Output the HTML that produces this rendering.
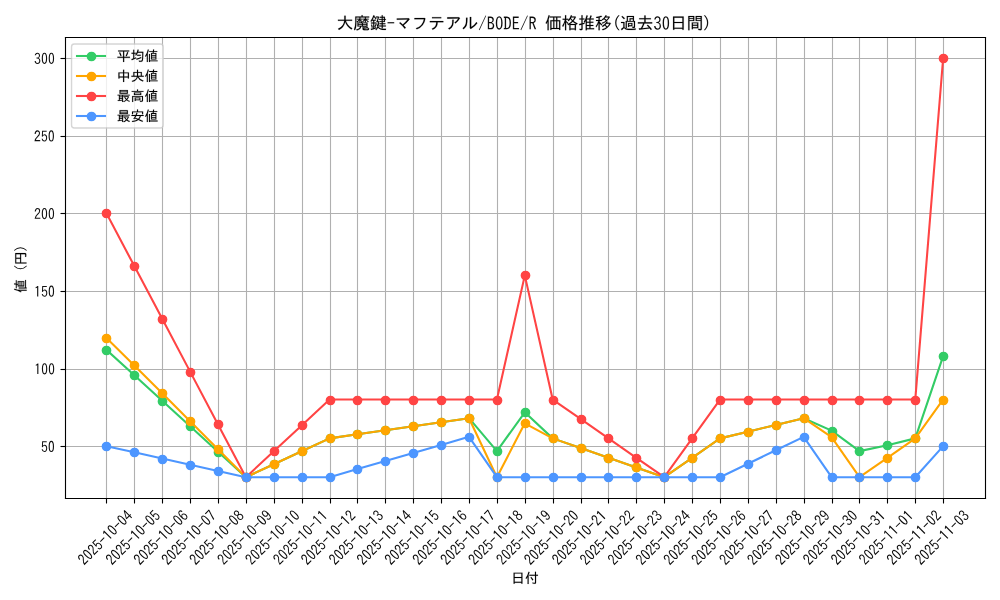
<!DOCTYPE html>
<html><head><meta charset="utf-8"><title>chart</title>
<style>html,body{margin:0;padding:0;background:#fff;width:1000px;height:600px;overflow:hidden;font-family:"Liberation Sans",sans-serif}svg{display:block}</style>
</head><body>
<svg width="1000" height="600" viewBox="0 0 1000 600">
<defs>
<style type="text/css">*{stroke-linejoin: round; stroke-linecap: butt}</style>
</defs>
<g id="figure_1">
<g id="patch_1">
<path d="M 0 600
L 1000 600
L 1000 0
L 0 0
z
" style="fill: #ffffff"/>
</g>
<g id="axes_1">
<g id="patch_2">
<path d="M 64.6 498.15
L 985 498.15
L 985 37.068
L 64.6 37.068
z
" style="fill: #ffffff"/>
</g>
<g id="matplotlib.axis_1">
<g id="xtick_1">
<g id="line2d_1">
<path d="M 106.5 498.5 L 106.5 37.5" clip-path="url(#p190b335d0f)" style="fill: none; stroke: #b0b0b0; stroke-width: 1.111111; stroke-linecap: square"/>
</g>
<g id="line2d_2">
<defs>
<path id="mf3acd94721" d="M 0.5 0.5 L 0.5 5.5" style="stroke: #000000; stroke-width: 1.111111"/>
</defs>
<g>
<use href="#mf3acd94721" x="106" y="498" style="stroke: #000000; stroke-width: 1.111111"/>
</g>
</g>
<g id="text_1">
<g transform="translate(83.888 565.418) rotate(-45) scale(0.138889 -0.138889)">
<defs>
<path id="IPAGothic-32" stroke="#fff" stroke-width="40" d="M 2900 325
L 250 325
Q 441 1553 1528 2453
Q 1963 2806 2116 3034
Q 2316 3319 2316 3706
Q 2316 4022 2175 4219
Q 1994 4494 1631 4494
Q 894 4494 825 3406
L 322 3406
Q 359 4056 628 4428
Q 981 4928 1644 4928
Q 2106 4928 2425 4659
Q 2828 4313 2828 3713
Q 2828 2875 1881 2156
Q 1072 1541 909 800
L 2900 800
L 2900 325
z
" transform="matrix(15.625e-3 0 0 17.031e-3 0 -6.938)"/>
<path id="IPAGothic-30" stroke="#fff" stroke-width="40" d="M 1600 4934 Q 2844 4934 2844 2566 Q 2844 197 1600 197 Q 359 197 359 2566 Q 359 4934 1600 4934 z M 1600 4494 Q 884 4494 884 2566 Q 884 638 1600 638 Q 2319 638 2319 2566 Q 2319 4494 1600 4494 z" transform="matrix(15.625e-3 0 0 17.031e-3 0 -6.938)"/>
<path id="IPAGothic-35" stroke="#fff" stroke-width="40" d="M 566 4806
L 2691 4806
L 2691 4359
L 1013 4359
L 944 2888
Q 1259 3250 1738 3250
Q 2250 3250 2588 2816
Q 2909 2397 2909 1772
Q 2909 1238 2697 844
Q 2341 197 1591 197
Q 538 197 328 1375
L 841 1375
Q 947 644 1588 644
Q 2000 644 2228 997
Q 2422 1294 2422 1766
Q 2422 2184 2259 2456
Q 2059 2822 1653 2822
Q 1156 2822 859 2225
L 456 2309
L 566 4806
z
" transform="matrix(15.625e-3 0 0 17.031e-3 0 -6.938)"/>
<path id="IPAGothic-2d" stroke="#fff" stroke-width="40" d="M 313 2663
L 2884 2663
L 2884 2203
L 313 2203
L 313 2663
z
" transform="scale(0.015625)"/>
<path id="IPAGothic-31" stroke="#fff" stroke-width="40" d="M 1428 325
L 1428 4153
Q 1188 3991 756 3809
L 756 4325
Q 1256 4509 1563 4806
L 1953 4806
L 1953 325
L 1428 325
z
" transform="matrix(15.625e-3 0 0 17.031e-3 0 -6.938)"/>
<path id="IPAGothic-34" stroke="#fff" stroke-width="40" d="M 1966 4806
L 2509 4806
L 2509 1869
L 3041 1869
L 3041 1434
L 2509 1434
L 2509 325
L 2034 325
L 2034 1434
L 159 1434
L 159 1881
L 1966 4806
z
M 2034 4109
L 641 1869
L 2034 1869
L 2034 4109
z
" transform="matrix(15.625e-3 0 0 17.031e-3 0 -6.938)"/>
</defs>
<use href="#IPAGothic-32"/>
<use href="#IPAGothic-30" transform="translate(50 0)"/>
<use href="#IPAGothic-32" transform="translate(100 0)"/>
<use href="#IPAGothic-35" transform="translate(150 0)"/>
<use href="#IPAGothic-2d" transform="translate(200 0)"/>
<use href="#IPAGothic-31" transform="translate(250 0)"/>
<use href="#IPAGothic-30" transform="translate(300 0)"/>
<use href="#IPAGothic-2d" transform="translate(350 0)"/>
<use href="#IPAGothic-30" transform="translate(400 0)"/>
<use href="#IPAGothic-34" transform="translate(450 0)"/>
</g>
</g>
</g>
<g id="xtick_2">
<g id="line2d_3">
<path d="M 134.5 498.5 L 134.5 37.5" clip-path="url(#p190b335d0f)" style="fill: none; stroke: #b0b0b0; stroke-width: 1.111111; stroke-linecap: square"/>
</g>
<g id="line2d_4">
<g>
<use href="#mf3acd94721" x="134" y="498" style="stroke: #000000; stroke-width: 1.111111"/>
</g>
</g>
<g id="text_2">
<g transform="translate(111.779 565.418) rotate(-45) scale(0.138889 -0.138889)">
<use href="#IPAGothic-32"/>
<use href="#IPAGothic-30" transform="translate(50 0)"/>
<use href="#IPAGothic-32" transform="translate(100 0)"/>
<use href="#IPAGothic-35" transform="translate(150 0)"/>
<use href="#IPAGothic-2d" transform="translate(200 0)"/>
<use href="#IPAGothic-31" transform="translate(250 0)"/>
<use href="#IPAGothic-30" transform="translate(300 0)"/>
<use href="#IPAGothic-2d" transform="translate(350 0)"/>
<use href="#IPAGothic-30" transform="translate(400 0)"/>
<use href="#IPAGothic-35" transform="translate(450 0)"/>
</g>
</g>
</g>
<g id="xtick_3">
<g id="line2d_5">
<path d="M 162.5 498.5 L 162.5 37.5" clip-path="url(#p190b335d0f)" style="fill: none; stroke: #b0b0b0; stroke-width: 1.111111; stroke-linecap: square"/>
</g>
<g id="line2d_6">
<g>
<use href="#mf3acd94721" x="162" y="498" style="stroke: #000000; stroke-width: 1.111111"/>
</g>
</g>
<g id="text_3">
<g transform="translate(139.67 565.418) rotate(-45) scale(0.138889 -0.138889)">
<defs>
<path id="IPAGothic-36" stroke="#fff" stroke-width="40" d="M 2322 3809
Q 2225 4488 1713 4488
Q 1269 4488 1028 3950
Q 803 3447 794 2588
Q 1159 3119 1725 3119
Q 2194 3119 2519 2772
Q 2903 2369 2903 1709
Q 2903 1159 2641 750
Q 2284 200 1638 200
Q 1050 200 697 738
Q 319 1328 319 2375
Q 319 3488 650 4172
Q 1028 4934 1706 4934
Q 2634 4934 2847 3809
L 2322 3809
z
M 1644 2703
Q 1272 2703 1047 2363
Q 875 2094 875 1691
Q 875 1328 997 1075
Q 1209 641 1650 641
Q 2003 641 2219 959
Q 2409 1241 2409 1697
Q 2409 2113 2244 2375
Q 2041 2703 1644 2703
z
" transform="matrix(15.625e-3 0 0 17.031e-3 0 -6.938)"/>
</defs>
<use href="#IPAGothic-32"/>
<use href="#IPAGothic-30" transform="translate(50 0)"/>
<use href="#IPAGothic-32" transform="translate(100 0)"/>
<use href="#IPAGothic-35" transform="translate(150 0)"/>
<use href="#IPAGothic-2d" transform="translate(200 0)"/>
<use href="#IPAGothic-31" transform="translate(250 0)"/>
<use href="#IPAGothic-30" transform="translate(300 0)"/>
<use href="#IPAGothic-2d" transform="translate(350 0)"/>
<use href="#IPAGothic-30" transform="translate(400 0)"/>
<use href="#IPAGothic-36" transform="translate(450 0)"/>
</g>
</g>
</g>
<g id="xtick_4">
<g id="line2d_7">
<path d="M 190.5 498.5 L 190.5 37.5" clip-path="url(#p190b335d0f)" style="fill: none; stroke: #b0b0b0; stroke-width: 1.111111; stroke-linecap: square"/>
</g>
<g id="line2d_8">
<g>
<use href="#mf3acd94721" x="190" y="498" style="stroke: #000000; stroke-width: 1.111111"/>
</g>
</g>
<g id="text_4">
<g transform="translate(167.561 565.418) rotate(-45) scale(0.138889 -0.138889)">
<defs>
<path id="IPAGothic-37" stroke="#fff" stroke-width="40" d="M 319 4806
L 2878 4806
L 2878 4441
Q 1978 2213 1528 325
L 947 325
Q 1434 2050 2328 4319
L 319 4319
L 319 4806
z
" transform="matrix(15.625e-3 0 0 17.031e-3 0 -6.938)"/>
</defs>
<use href="#IPAGothic-32"/>
<use href="#IPAGothic-30" transform="translate(50 0)"/>
<use href="#IPAGothic-32" transform="translate(100 0)"/>
<use href="#IPAGothic-35" transform="translate(150 0)"/>
<use href="#IPAGothic-2d" transform="translate(200 0)"/>
<use href="#IPAGothic-31" transform="translate(250 0)"/>
<use href="#IPAGothic-30" transform="translate(300 0)"/>
<use href="#IPAGothic-2d" transform="translate(350 0)"/>
<use href="#IPAGothic-30" transform="translate(400 0)"/>
<use href="#IPAGothic-37" transform="translate(450 0)"/>
</g>
</g>
</g>
<g id="xtick_5">
<g id="line2d_9">
<path d="M 218.5 498.5 L 218.5 37.5" clip-path="url(#p190b335d0f)" style="fill: none; stroke: #b0b0b0; stroke-width: 1.111111; stroke-linecap: square"/>
</g>
<g id="line2d_10">
<g>
<use href="#mf3acd94721" x="218" y="498" style="stroke: #000000; stroke-width: 1.111111"/>
</g>
</g>
<g id="text_5">
<g transform="translate(195.452 565.418) rotate(-45) scale(0.138889 -0.138889)">
<defs>
<path id="IPAGothic-38" stroke="#fff" stroke-width="40" d="M 1050 2741
Q 403 3056 403 3750
Q 403 4084 563 4359
Q 900 4934 1600 4934
Q 1950 4934 2253 4750
Q 2797 4416 2797 3750
Q 2797 3056 2150 2741
Q 2978 2422 2978 1541
Q 2978 1038 2697 678
Q 2322 197 1600 197
Q 988 197 616 550
Q 225 922 225 1541
Q 225 2422 1050 2741
z
M 1600 4525
Q 1278 4525 1075 4294
Q 891 4078 891 3756
Q 891 3544 969 3372
Q 1159 2956 1606 2956
Q 1863 2956 2041 3116
Q 2309 3347 2309 3756
Q 2309 4156 2041 4378
Q 1856 4525 1600 4525
z
M 1594 2497
Q 1178 2497 931 2191
Q 725 1925 725 1541
Q 725 1172 925 925
Q 1172 619 1600 619
Q 2031 619 2281 925
Q 2478 1172 2478 1541
Q 2478 2022 2184 2278
Q 1947 2497 1594 2497
z
" transform="matrix(15.625e-3 0 0 17.031e-3 0 -6.938)"/>
</defs>
<use href="#IPAGothic-32"/>
<use href="#IPAGothic-30" transform="translate(50 0)"/>
<use href="#IPAGothic-32" transform="translate(100 0)"/>
<use href="#IPAGothic-35" transform="translate(150 0)"/>
<use href="#IPAGothic-2d" transform="translate(200 0)"/>
<use href="#IPAGothic-31" transform="translate(250 0)"/>
<use href="#IPAGothic-30" transform="translate(300 0)"/>
<use href="#IPAGothic-2d" transform="translate(350 0)"/>
<use href="#IPAGothic-30" transform="translate(400 0)"/>
<use href="#IPAGothic-38" transform="translate(450 0)"/>
</g>
</g>
</g>
<g id="xtick_6">
<g id="line2d_11">
<path d="M 246.5 498.5 L 246.5 37.5" clip-path="url(#p190b335d0f)" style="fill: none; stroke: #b0b0b0; stroke-width: 1.111111; stroke-linecap: square"/>
</g>
<g id="line2d_12">
<g>
<use href="#mf3acd94721" x="246" y="498" style="stroke: #000000; stroke-width: 1.111111"/>
</g>
</g>
<g id="text_6">
<g transform="translate(223.387 565.329) rotate(-45) scale(0.138889 -0.138889)">
<defs>
<path id="IPAGothic-39" stroke="#fff" stroke-width="40" d="M 909 1363
Q 988 666 1569 666
Q 2431 666 2422 2500
Q 2063 1972 1519 1972
Q 859 1972 531 2588
Q 347 2947 347 3419
Q 347 4019 672 4459
Q 1022 4934 1569 4934
Q 2888 4934 2888 2706
Q 2888 197 1575 197
Q 975 197 628 716
Q 450 984 384 1363
L 909 1363
z
M 1591 4494
Q 834 4494 834 3431
Q 834 3038 969 2778
Q 1169 2394 1591 2394
Q 1859 2394 2069 2631
Q 2338 2938 2338 3431
Q 2338 3925 2125 4213
Q 1922 4494 1591 4494
z
" transform="matrix(15.625e-3 0 0 17.031e-3 0 -6.938)"/>
</defs>
<use href="#IPAGothic-32"/>
<use href="#IPAGothic-30" transform="translate(50 0)"/>
<use href="#IPAGothic-32" transform="translate(100 0)"/>
<use href="#IPAGothic-35" transform="translate(150 0)"/>
<use href="#IPAGothic-2d" transform="translate(200 0)"/>
<use href="#IPAGothic-31" transform="translate(250 0)"/>
<use href="#IPAGothic-30" transform="translate(300 0)"/>
<use href="#IPAGothic-2d" transform="translate(350 0)"/>
<use href="#IPAGothic-30" transform="translate(400 0)"/>
<use href="#IPAGothic-39" transform="translate(450 0)"/>
</g>
</g>
</g>
<g id="xtick_7">
<g id="line2d_13">
<path d="M 274.5 498.5 L 274.5 37.5" clip-path="url(#p190b335d0f)" style="fill: none; stroke: #b0b0b0; stroke-width: 1.111111; stroke-linecap: square"/>
</g>
<g id="line2d_14">
<g>
<use href="#mf3acd94721" x="274" y="498" style="stroke: #000000; stroke-width: 1.111111"/>
</g>
</g>
<g id="text_7">
<g transform="translate(251.278 565.329) rotate(-45) scale(0.138889 -0.138889)">
<use href="#IPAGothic-32"/>
<use href="#IPAGothic-30" transform="translate(50 0)"/>
<use href="#IPAGothic-32" transform="translate(100 0)"/>
<use href="#IPAGothic-35" transform="translate(150 0)"/>
<use href="#IPAGothic-2d" transform="translate(200 0)"/>
<use href="#IPAGothic-31" transform="translate(250 0)"/>
<use href="#IPAGothic-30" transform="translate(300 0)"/>
<use href="#IPAGothic-2d" transform="translate(350 0)"/>
<use href="#IPAGothic-31" transform="translate(400 0)"/>
<use href="#IPAGothic-30" transform="translate(450 0)"/>
</g>
</g>
</g>
<g id="xtick_8">
<g id="line2d_15">
<path d="M 302.5 498.5 L 302.5 37.5" clip-path="url(#p190b335d0f)" style="fill: none; stroke: #b0b0b0; stroke-width: 1.111111; stroke-linecap: square"/>
</g>
<g id="line2d_16">
<g>
<use href="#mf3acd94721" x="302" y="498" style="stroke: #000000; stroke-width: 1.111111"/>
</g>
</g>
<g id="text_8">
<g transform="translate(279.169 565.329) rotate(-45) scale(0.138889 -0.138889)">
<use href="#IPAGothic-32"/>
<use href="#IPAGothic-30" transform="translate(50 0)"/>
<use href="#IPAGothic-32" transform="translate(100 0)"/>
<use href="#IPAGothic-35" transform="translate(150 0)"/>
<use href="#IPAGothic-2d" transform="translate(200 0)"/>
<use href="#IPAGothic-31" transform="translate(250 0)"/>
<use href="#IPAGothic-30" transform="translate(300 0)"/>
<use href="#IPAGothic-2d" transform="translate(350 0)"/>
<use href="#IPAGothic-31" transform="translate(400 0)"/>
<use href="#IPAGothic-31" transform="translate(450 0)"/>
</g>
</g>
</g>
<g id="xtick_9">
<g id="line2d_17">
<path d="M 330.5 498.5 L 330.5 37.5" clip-path="url(#p190b335d0f)" style="fill: none; stroke: #b0b0b0; stroke-width: 1.111111; stroke-linecap: square"/>
</g>
<g id="line2d_18">
<g>
<use href="#mf3acd94721" x="330" y="498" style="stroke: #000000; stroke-width: 1.111111"/>
</g>
</g>
<g id="text_9">
<g transform="translate(307.016 565.418) rotate(-45) scale(0.138889 -0.138889)">
<use href="#IPAGothic-32"/>
<use href="#IPAGothic-30" transform="translate(50 0)"/>
<use href="#IPAGothic-32" transform="translate(100 0)"/>
<use href="#IPAGothic-35" transform="translate(150 0)"/>
<use href="#IPAGothic-2d" transform="translate(200 0)"/>
<use href="#IPAGothic-31" transform="translate(250 0)"/>
<use href="#IPAGothic-30" transform="translate(300 0)"/>
<use href="#IPAGothic-2d" transform="translate(350 0)"/>
<use href="#IPAGothic-31" transform="translate(400 0)"/>
<use href="#IPAGothic-32" transform="translate(450 0)"/>
</g>
</g>
</g>
<g id="xtick_10">
<g id="line2d_19">
<path d="M 357.5 498.5 L 357.5 37.5" clip-path="url(#p190b335d0f)" style="fill: none; stroke: #b0b0b0; stroke-width: 1.111111; stroke-linecap: square"/>
</g>
<g id="line2d_20">
<g>
<use href="#mf3acd94721" x="357" y="498" style="stroke: #000000; stroke-width: 1.111111"/>
</g>
</g>
<g id="text_10">
<g transform="translate(334.907 565.418) rotate(-45) scale(0.138889 -0.138889)">
<defs>
<path id="IPAGothic-33" stroke="#fff" stroke-width="40" d="M 1113 2931
L 1431 2931
Q 1841 2931 1994 3047
Q 2281 3269 2281 3713
Q 2281 4500 1566 4500
Q 972 4500 838 3828
L 331 3828
Q 400 4250 625 4525
Q 969 4934 1566 4934
Q 2066 4934 2391 4647
Q 2775 4309 2775 3731
Q 2775 2953 2078 2713
Q 2919 2388 2919 1528
Q 2919 978 2606 625
Q 2231 197 1575 197
Q 959 197 594 619
Q 325 928 269 1472
L 794 1472
Q 859 638 1575 638
Q 1906 638 2131 825
Q 2413 1066 2413 1528
Q 2413 2522 1431 2522
L 1113 2522
L 1113 2931
z
" transform="matrix(15.625e-3 0 0 17.031e-3 0 -6.938)"/>
</defs>
<use href="#IPAGothic-32"/>
<use href="#IPAGothic-30" transform="translate(50 0)"/>
<use href="#IPAGothic-32" transform="translate(100 0)"/>
<use href="#IPAGothic-35" transform="translate(150 0)"/>
<use href="#IPAGothic-2d" transform="translate(200 0)"/>
<use href="#IPAGothic-31" transform="translate(250 0)"/>
<use href="#IPAGothic-30" transform="translate(300 0)"/>
<use href="#IPAGothic-2d" transform="translate(350 0)"/>
<use href="#IPAGothic-31" transform="translate(400 0)"/>
<use href="#IPAGothic-33" transform="translate(450 0)"/>
</g>
</g>
</g>
<g id="xtick_11">
<g id="line2d_21">
<path d="M 385.5 498.5 L 385.5 37.5" clip-path="url(#p190b335d0f)" style="fill: none; stroke: #b0b0b0; stroke-width: 1.111111; stroke-linecap: square"/>
</g>
<g id="line2d_22">
<g>
<use href="#mf3acd94721" x="385" y="498" style="stroke: #000000; stroke-width: 1.111111"/>
</g>
</g>
<g id="text_11">
<g transform="translate(362.797 565.418) rotate(-45) scale(0.138889 -0.138889)">
<use href="#IPAGothic-32"/>
<use href="#IPAGothic-30" transform="translate(50 0)"/>
<use href="#IPAGothic-32" transform="translate(100 0)"/>
<use href="#IPAGothic-35" transform="translate(150 0)"/>
<use href="#IPAGothic-2d" transform="translate(200 0)"/>
<use href="#IPAGothic-31" transform="translate(250 0)"/>
<use href="#IPAGothic-30" transform="translate(300 0)"/>
<use href="#IPAGothic-2d" transform="translate(350 0)"/>
<use href="#IPAGothic-31" transform="translate(400 0)"/>
<use href="#IPAGothic-34" transform="translate(450 0)"/>
</g>
</g>
</g>
<g id="xtick_12">
<g id="line2d_23">
<path d="M 413.5 498.5 L 413.5 37.5" clip-path="url(#p190b335d0f)" style="fill: none; stroke: #b0b0b0; stroke-width: 1.111111; stroke-linecap: square"/>
</g>
<g id="line2d_24">
<g>
<use href="#mf3acd94721" x="413" y="498" style="stroke: #000000; stroke-width: 1.111111"/>
</g>
</g>
<g id="text_12">
<g transform="translate(390.688 565.418) rotate(-45) scale(0.138889 -0.138889)">
<use href="#IPAGothic-32"/>
<use href="#IPAGothic-30" transform="translate(50 0)"/>
<use href="#IPAGothic-32" transform="translate(100 0)"/>
<use href="#IPAGothic-35" transform="translate(150 0)"/>
<use href="#IPAGothic-2d" transform="translate(200 0)"/>
<use href="#IPAGothic-31" transform="translate(250 0)"/>
<use href="#IPAGothic-30" transform="translate(300 0)"/>
<use href="#IPAGothic-2d" transform="translate(350 0)"/>
<use href="#IPAGothic-31" transform="translate(400 0)"/>
<use href="#IPAGothic-35" transform="translate(450 0)"/>
</g>
</g>
</g>
<g id="xtick_13">
<g id="line2d_25">
<path d="M 441.5 498.5 L 441.5 37.5" clip-path="url(#p190b335d0f)" style="fill: none; stroke: #b0b0b0; stroke-width: 1.111111; stroke-linecap: square"/>
</g>
<g id="line2d_26">
<g>
<use href="#mf3acd94721" x="441" y="498" style="stroke: #000000; stroke-width: 1.111111"/>
</g>
</g>
<g id="text_13">
<g transform="translate(418.579 565.418) rotate(-45) scale(0.138889 -0.138889)">
<use href="#IPAGothic-32"/>
<use href="#IPAGothic-30" transform="translate(50 0)"/>
<use href="#IPAGothic-32" transform="translate(100 0)"/>
<use href="#IPAGothic-35" transform="translate(150 0)"/>
<use href="#IPAGothic-2d" transform="translate(200 0)"/>
<use href="#IPAGothic-31" transform="translate(250 0)"/>
<use href="#IPAGothic-30" transform="translate(300 0)"/>
<use href="#IPAGothic-2d" transform="translate(350 0)"/>
<use href="#IPAGothic-31" transform="translate(400 0)"/>
<use href="#IPAGothic-36" transform="translate(450 0)"/>
</g>
</g>
</g>
<g id="xtick_14">
<g id="line2d_27">
<path d="M 469.5 498.5 L 469.5 37.5" clip-path="url(#p190b335d0f)" style="fill: none; stroke: #b0b0b0; stroke-width: 1.111111; stroke-linecap: square"/>
</g>
<g id="line2d_28">
<g>
<use href="#mf3acd94721" x="469" y="498" style="stroke: #000000; stroke-width: 1.111111"/>
</g>
</g>
<g id="text_14">
<g transform="translate(446.47 565.418) rotate(-45) scale(0.138889 -0.138889)">
<use href="#IPAGothic-32"/>
<use href="#IPAGothic-30" transform="translate(50 0)"/>
<use href="#IPAGothic-32" transform="translate(100 0)"/>
<use href="#IPAGothic-35" transform="translate(150 0)"/>
<use href="#IPAGothic-2d" transform="translate(200 0)"/>
<use href="#IPAGothic-31" transform="translate(250 0)"/>
<use href="#IPAGothic-30" transform="translate(300 0)"/>
<use href="#IPAGothic-2d" transform="translate(350 0)"/>
<use href="#IPAGothic-31" transform="translate(400 0)"/>
<use href="#IPAGothic-37" transform="translate(450 0)"/>
</g>
</g>
</g>
<g id="xtick_15">
<g id="line2d_29">
<path d="M 497.5 498.5 L 497.5 37.5" clip-path="url(#p190b335d0f)" style="fill: none; stroke: #b0b0b0; stroke-width: 1.111111; stroke-linecap: square"/>
</g>
<g id="line2d_30">
<g>
<use href="#mf3acd94721" x="497" y="498" style="stroke: #000000; stroke-width: 1.111111"/>
</g>
</g>
<g id="text_15">
<g transform="translate(474.361 565.418) rotate(-45) scale(0.138889 -0.138889)">
<use href="#IPAGothic-32"/>
<use href="#IPAGothic-30" transform="translate(50 0)"/>
<use href="#IPAGothic-32" transform="translate(100 0)"/>
<use href="#IPAGothic-35" transform="translate(150 0)"/>
<use href="#IPAGothic-2d" transform="translate(200 0)"/>
<use href="#IPAGothic-31" transform="translate(250 0)"/>
<use href="#IPAGothic-30" transform="translate(300 0)"/>
<use href="#IPAGothic-2d" transform="translate(350 0)"/>
<use href="#IPAGothic-31" transform="translate(400 0)"/>
<use href="#IPAGothic-38" transform="translate(450 0)"/>
</g>
</g>
</g>
<g id="xtick_16">
<g id="line2d_31">
<path d="M 525.5 498.5 L 525.5 37.5" clip-path="url(#p190b335d0f)" style="fill: none; stroke: #b0b0b0; stroke-width: 1.111111; stroke-linecap: square"/>
</g>
<g id="line2d_32">
<g>
<use href="#mf3acd94721" x="525" y="498" style="stroke: #000000; stroke-width: 1.111111"/>
</g>
</g>
<g id="text_16">
<g transform="translate(502.296 565.329) rotate(-45) scale(0.138889 -0.138889)">
<use href="#IPAGothic-32"/>
<use href="#IPAGothic-30" transform="translate(50 0)"/>
<use href="#IPAGothic-32" transform="translate(100 0)"/>
<use href="#IPAGothic-35" transform="translate(150 0)"/>
<use href="#IPAGothic-2d" transform="translate(200 0)"/>
<use href="#IPAGothic-31" transform="translate(250 0)"/>
<use href="#IPAGothic-30" transform="translate(300 0)"/>
<use href="#IPAGothic-2d" transform="translate(350 0)"/>
<use href="#IPAGothic-31" transform="translate(400 0)"/>
<use href="#IPAGothic-39" transform="translate(450 0)"/>
</g>
</g>
</g>
<g id="xtick_17">
<g id="line2d_33">
<path d="M 553.5 498.5 L 553.5 37.5" clip-path="url(#p190b335d0f)" style="fill: none; stroke: #b0b0b0; stroke-width: 1.111111; stroke-linecap: square"/>
</g>
<g id="line2d_34">
<g>
<use href="#mf3acd94721" x="553" y="498" style="stroke: #000000; stroke-width: 1.111111"/>
</g>
</g>
<g id="text_17">
<g transform="translate(530.143 565.418) rotate(-45) scale(0.138889 -0.138889)">
<use href="#IPAGothic-32"/>
<use href="#IPAGothic-30" transform="translate(50 0)"/>
<use href="#IPAGothic-32" transform="translate(100 0)"/>
<use href="#IPAGothic-35" transform="translate(150 0)"/>
<use href="#IPAGothic-2d" transform="translate(200 0)"/>
<use href="#IPAGothic-31" transform="translate(250 0)"/>
<use href="#IPAGothic-30" transform="translate(300 0)"/>
<use href="#IPAGothic-2d" transform="translate(350 0)"/>
<use href="#IPAGothic-32" transform="translate(400 0)"/>
<use href="#IPAGothic-30" transform="translate(450 0)"/>
</g>
</g>
</g>
<g id="xtick_18">
<g id="line2d_35">
<path d="M 581.5 498.5 L 581.5 37.5" clip-path="url(#p190b335d0f)" style="fill: none; stroke: #b0b0b0; stroke-width: 1.111111; stroke-linecap: square"/>
</g>
<g id="line2d_36">
<g>
<use href="#mf3acd94721" x="581" y="498" style="stroke: #000000; stroke-width: 1.111111"/>
</g>
</g>
<g id="text_18">
<g transform="translate(558.034 565.418) rotate(-45) scale(0.138889 -0.138889)">
<use href="#IPAGothic-32"/>
<use href="#IPAGothic-30" transform="translate(50 0)"/>
<use href="#IPAGothic-32" transform="translate(100 0)"/>
<use href="#IPAGothic-35" transform="translate(150 0)"/>
<use href="#IPAGothic-2d" transform="translate(200 0)"/>
<use href="#IPAGothic-31" transform="translate(250 0)"/>
<use href="#IPAGothic-30" transform="translate(300 0)"/>
<use href="#IPAGothic-2d" transform="translate(350 0)"/>
<use href="#IPAGothic-32" transform="translate(400 0)"/>
<use href="#IPAGothic-31" transform="translate(450 0)"/>
</g>
</g>
</g>
<g id="xtick_19">
<g id="line2d_37">
<path d="M 608.5 498.5 L 608.5 37.5" clip-path="url(#p190b335d0f)" style="fill: none; stroke: #b0b0b0; stroke-width: 1.111111; stroke-linecap: square"/>
</g>
<g id="line2d_38">
<g>
<use href="#mf3acd94721" x="608" y="498" style="stroke: #000000; stroke-width: 1.111111"/>
</g>
</g>
<g id="text_19">
<g transform="translate(585.88 565.506) rotate(-45) scale(0.138889 -0.138889)">
<use href="#IPAGothic-32"/>
<use href="#IPAGothic-30" transform="translate(50 0)"/>
<use href="#IPAGothic-32" transform="translate(100 0)"/>
<use href="#IPAGothic-35" transform="translate(150 0)"/>
<use href="#IPAGothic-2d" transform="translate(200 0)"/>
<use href="#IPAGothic-31" transform="translate(250 0)"/>
<use href="#IPAGothic-30" transform="translate(300 0)"/>
<use href="#IPAGothic-2d" transform="translate(350 0)"/>
<use href="#IPAGothic-32" transform="translate(400 0)"/>
<use href="#IPAGothic-32" transform="translate(450 0)"/>
</g>
</g>
</g>
<g id="xtick_20">
<g id="line2d_39">
<path d="M 636.5 498.5 L 636.5 37.5" clip-path="url(#p190b335d0f)" style="fill: none; stroke: #b0b0b0; stroke-width: 1.111111; stroke-linecap: square"/>
</g>
<g id="line2d_40">
<g>
<use href="#mf3acd94721" x="636" y="498" style="stroke: #000000; stroke-width: 1.111111"/>
</g>
</g>
<g id="text_20">
<g transform="translate(613.771 565.506) rotate(-45) scale(0.138889 -0.138889)">
<use href="#IPAGothic-32"/>
<use href="#IPAGothic-30" transform="translate(50 0)"/>
<use href="#IPAGothic-32" transform="translate(100 0)"/>
<use href="#IPAGothic-35" transform="translate(150 0)"/>
<use href="#IPAGothic-2d" transform="translate(200 0)"/>
<use href="#IPAGothic-31" transform="translate(250 0)"/>
<use href="#IPAGothic-30" transform="translate(300 0)"/>
<use href="#IPAGothic-2d" transform="translate(350 0)"/>
<use href="#IPAGothic-32" transform="translate(400 0)"/>
<use href="#IPAGothic-33" transform="translate(450 0)"/>
</g>
</g>
</g>
<g id="xtick_21">
<g id="line2d_41">
<path d="M 664.5 498.5 L 664.5 37.5" clip-path="url(#p190b335d0f)" style="fill: none; stroke: #b0b0b0; stroke-width: 1.111111; stroke-linecap: square"/>
</g>
<g id="line2d_42">
<g>
<use href="#mf3acd94721" x="664" y="498" style="stroke: #000000; stroke-width: 1.111111"/>
</g>
</g>
<g id="text_21">
<g transform="translate(641.662 565.506) rotate(-45) scale(0.138889 -0.138889)">
<use href="#IPAGothic-32"/>
<use href="#IPAGothic-30" transform="translate(50 0)"/>
<use href="#IPAGothic-32" transform="translate(100 0)"/>
<use href="#IPAGothic-35" transform="translate(150 0)"/>
<use href="#IPAGothic-2d" transform="translate(200 0)"/>
<use href="#IPAGothic-31" transform="translate(250 0)"/>
<use href="#IPAGothic-30" transform="translate(300 0)"/>
<use href="#IPAGothic-2d" transform="translate(350 0)"/>
<use href="#IPAGothic-32" transform="translate(400 0)"/>
<use href="#IPAGothic-34" transform="translate(450 0)"/>
</g>
</g>
</g>
<g id="xtick_22">
<g id="line2d_43">
<path d="M 692.5 498.5 L 692.5 37.5" clip-path="url(#p190b335d0f)" style="fill: none; stroke: #b0b0b0; stroke-width: 1.111111; stroke-linecap: square"/>
</g>
<g id="line2d_44">
<g>
<use href="#mf3acd94721" x="692" y="498" style="stroke: #000000; stroke-width: 1.111111"/>
</g>
</g>
<g id="text_22">
<g transform="translate(669.553 565.506) rotate(-45) scale(0.138889 -0.138889)">
<use href="#IPAGothic-32"/>
<use href="#IPAGothic-30" transform="translate(50 0)"/>
<use href="#IPAGothic-32" transform="translate(100 0)"/>
<use href="#IPAGothic-35" transform="translate(150 0)"/>
<use href="#IPAGothic-2d" transform="translate(200 0)"/>
<use href="#IPAGothic-31" transform="translate(250 0)"/>
<use href="#IPAGothic-30" transform="translate(300 0)"/>
<use href="#IPAGothic-2d" transform="translate(350 0)"/>
<use href="#IPAGothic-32" transform="translate(400 0)"/>
<use href="#IPAGothic-35" transform="translate(450 0)"/>
</g>
</g>
</g>
<g id="xtick_23">
<g id="line2d_45">
<path d="M 720.5 498.5 L 720.5 37.5" clip-path="url(#p190b335d0f)" style="fill: none; stroke: #b0b0b0; stroke-width: 1.111111; stroke-linecap: square"/>
</g>
<g id="line2d_46">
<g>
<use href="#mf3acd94721" x="720" y="498" style="stroke: #000000; stroke-width: 1.111111"/>
</g>
</g>
<g id="text_23">
<g transform="translate(697.444 565.506) rotate(-45) scale(0.138889 -0.138889)">
<use href="#IPAGothic-32"/>
<use href="#IPAGothic-30" transform="translate(50 0)"/>
<use href="#IPAGothic-32" transform="translate(100 0)"/>
<use href="#IPAGothic-35" transform="translate(150 0)"/>
<use href="#IPAGothic-2d" transform="translate(200 0)"/>
<use href="#IPAGothic-31" transform="translate(250 0)"/>
<use href="#IPAGothic-30" transform="translate(300 0)"/>
<use href="#IPAGothic-2d" transform="translate(350 0)"/>
<use href="#IPAGothic-32" transform="translate(400 0)"/>
<use href="#IPAGothic-36" transform="translate(450 0)"/>
</g>
</g>
</g>
<g id="xtick_24">
<g id="line2d_47">
<path d="M 748.5 498.5 L 748.5 37.5" clip-path="url(#p190b335d0f)" style="fill: none; stroke: #b0b0b0; stroke-width: 1.111111; stroke-linecap: square"/>
</g>
<g id="line2d_48">
<g>
<use href="#mf3acd94721" x="748" y="498" style="stroke: #000000; stroke-width: 1.111111"/>
</g>
</g>
<g id="text_24">
<g transform="translate(725.335 565.506) rotate(-45) scale(0.138889 -0.138889)">
<use href="#IPAGothic-32"/>
<use href="#IPAGothic-30" transform="translate(50 0)"/>
<use href="#IPAGothic-32" transform="translate(100 0)"/>
<use href="#IPAGothic-35" transform="translate(150 0)"/>
<use href="#IPAGothic-2d" transform="translate(200 0)"/>
<use href="#IPAGothic-31" transform="translate(250 0)"/>
<use href="#IPAGothic-30" transform="translate(300 0)"/>
<use href="#IPAGothic-2d" transform="translate(350 0)"/>
<use href="#IPAGothic-32" transform="translate(400 0)"/>
<use href="#IPAGothic-37" transform="translate(450 0)"/>
</g>
</g>
</g>
<g id="xtick_25">
<g id="line2d_49">
<path d="M 776.5 498.5 L 776.5 37.5" clip-path="url(#p190b335d0f)" style="fill: none; stroke: #b0b0b0; stroke-width: 1.111111; stroke-linecap: square"/>
</g>
<g id="line2d_50">
<g>
<use href="#mf3acd94721" x="776" y="498" style="stroke: #000000; stroke-width: 1.111111"/>
</g>
</g>
<g id="text_25">
<g transform="translate(753.226 565.506) rotate(-45) scale(0.138889 -0.138889)">
<use href="#IPAGothic-32"/>
<use href="#IPAGothic-30" transform="translate(50 0)"/>
<use href="#IPAGothic-32" transform="translate(100 0)"/>
<use href="#IPAGothic-35" transform="translate(150 0)"/>
<use href="#IPAGothic-2d" transform="translate(200 0)"/>
<use href="#IPAGothic-31" transform="translate(250 0)"/>
<use href="#IPAGothic-30" transform="translate(300 0)"/>
<use href="#IPAGothic-2d" transform="translate(350 0)"/>
<use href="#IPAGothic-32" transform="translate(400 0)"/>
<use href="#IPAGothic-38" transform="translate(450 0)"/>
</g>
</g>
</g>
<g id="xtick_26">
<g id="line2d_51">
<path d="M 804.5 498.5 L 804.5 37.5" clip-path="url(#p190b335d0f)" style="fill: none; stroke: #b0b0b0; stroke-width: 1.111111; stroke-linecap: square"/>
</g>
<g id="line2d_52">
<g>
<use href="#mf3acd94721" x="804" y="498" style="stroke: #000000; stroke-width: 1.111111"/>
</g>
</g>
<g id="text_26">
<g transform="translate(781.161 565.418) rotate(-45) scale(0.138889 -0.138889)">
<use href="#IPAGothic-32"/>
<use href="#IPAGothic-30" transform="translate(50 0)"/>
<use href="#IPAGothic-32" transform="translate(100 0)"/>
<use href="#IPAGothic-35" transform="translate(150 0)"/>
<use href="#IPAGothic-2d" transform="translate(200 0)"/>
<use href="#IPAGothic-31" transform="translate(250 0)"/>
<use href="#IPAGothic-30" transform="translate(300 0)"/>
<use href="#IPAGothic-2d" transform="translate(350 0)"/>
<use href="#IPAGothic-32" transform="translate(400 0)"/>
<use href="#IPAGothic-39" transform="translate(450 0)"/>
</g>
</g>
</g>
<g id="xtick_27">
<g id="line2d_53">
<path d="M 832.5 498.5 L 832.5 37.5" clip-path="url(#p190b335d0f)" style="fill: none; stroke: #b0b0b0; stroke-width: 1.111111; stroke-linecap: square"/>
</g>
<g id="line2d_54">
<g>
<use href="#mf3acd94721" x="832" y="498" style="stroke: #000000; stroke-width: 1.111111"/>
</g>
</g>
<g id="text_27">
<g transform="translate(809.052 565.418) rotate(-45) scale(0.138889 -0.138889)">
<use href="#IPAGothic-32"/>
<use href="#IPAGothic-30" transform="translate(50 0)"/>
<use href="#IPAGothic-32" transform="translate(100 0)"/>
<use href="#IPAGothic-35" transform="translate(150 0)"/>
<use href="#IPAGothic-2d" transform="translate(200 0)"/>
<use href="#IPAGothic-31" transform="translate(250 0)"/>
<use href="#IPAGothic-30" transform="translate(300 0)"/>
<use href="#IPAGothic-2d" transform="translate(350 0)"/>
<use href="#IPAGothic-33" transform="translate(400 0)"/>
<use href="#IPAGothic-30" transform="translate(450 0)"/>
</g>
</g>
</g>
<g id="xtick_28">
<g id="line2d_55">
<path d="M 859.5 498.5 L 859.5 37.5" clip-path="url(#p190b335d0f)" style="fill: none; stroke: #b0b0b0; stroke-width: 1.111111; stroke-linecap: square"/>
</g>
<g id="line2d_56">
<g>
<use href="#mf3acd94721" x="859" y="498" style="stroke: #000000; stroke-width: 1.111111"/>
</g>
</g>
<g id="text_28">
<g transform="translate(836.943 565.418) rotate(-45) scale(0.138889 -0.138889)">
<use href="#IPAGothic-32"/>
<use href="#IPAGothic-30" transform="translate(50 0)"/>
<use href="#IPAGothic-32" transform="translate(100 0)"/>
<use href="#IPAGothic-35" transform="translate(150 0)"/>
<use href="#IPAGothic-2d" transform="translate(200 0)"/>
<use href="#IPAGothic-31" transform="translate(250 0)"/>
<use href="#IPAGothic-30" transform="translate(300 0)"/>
<use href="#IPAGothic-2d" transform="translate(350 0)"/>
<use href="#IPAGothic-33" transform="translate(400 0)"/>
<use href="#IPAGothic-31" transform="translate(450 0)"/>
</g>
</g>
</g>
<g id="xtick_29">
<g id="line2d_57">
<path d="M 887.5 498.5 L 887.5 37.5" clip-path="url(#p190b335d0f)" style="fill: none; stroke: #b0b0b0; stroke-width: 1.111111; stroke-linecap: square"/>
</g>
<g id="line2d_58">
<g>
<use href="#mf3acd94721" x="887" y="498" style="stroke: #000000; stroke-width: 1.111111"/>
</g>
</g>
<g id="text_29">
<g transform="translate(864.878 565.329) rotate(-45) scale(0.138889 -0.138889)">
<use href="#IPAGothic-32"/>
<use href="#IPAGothic-30" transform="translate(50 0)"/>
<use href="#IPAGothic-32" transform="translate(100 0)"/>
<use href="#IPAGothic-35" transform="translate(150 0)"/>
<use href="#IPAGothic-2d" transform="translate(200 0)"/>
<use href="#IPAGothic-31" transform="translate(250 0)"/>
<use href="#IPAGothic-31" transform="translate(300 0)"/>
<use href="#IPAGothic-2d" transform="translate(350 0)"/>
<use href="#IPAGothic-30" transform="translate(400 0)"/>
<use href="#IPAGothic-31" transform="translate(450 0)"/>
</g>
</g>
</g>
<g id="xtick_30">
<g id="line2d_59">
<path d="M 915.5 498.5 L 915.5 37.5" clip-path="url(#p190b335d0f)" style="fill: none; stroke: #b0b0b0; stroke-width: 1.111111; stroke-linecap: square"/>
</g>
<g id="line2d_60">
<g>
<use href="#mf3acd94721" x="915" y="498" style="stroke: #000000; stroke-width: 1.111111"/>
</g>
</g>
<g id="text_30">
<g transform="translate(892.725 565.418) rotate(-45) scale(0.138889 -0.138889)">
<use href="#IPAGothic-32"/>
<use href="#IPAGothic-30" transform="translate(50 0)"/>
<use href="#IPAGothic-32" transform="translate(100 0)"/>
<use href="#IPAGothic-35" transform="translate(150 0)"/>
<use href="#IPAGothic-2d" transform="translate(200 0)"/>
<use href="#IPAGothic-31" transform="translate(250 0)"/>
<use href="#IPAGothic-31" transform="translate(300 0)"/>
<use href="#IPAGothic-2d" transform="translate(350 0)"/>
<use href="#IPAGothic-30" transform="translate(400 0)"/>
<use href="#IPAGothic-32" transform="translate(450 0)"/>
</g>
</g>
</g>
<g id="xtick_31">
<g id="line2d_61">
<path d="M 943.5 498.5 L 943.5 37.5" clip-path="url(#p190b335d0f)" style="fill: none; stroke: #b0b0b0; stroke-width: 1.111111; stroke-linecap: square"/>
</g>
<g id="line2d_62">
<g>
<use href="#mf3acd94721" x="943" y="498" style="stroke: #000000; stroke-width: 1.111111"/>
</g>
</g>
<g id="text_31">
<g transform="translate(920.616 565.418) rotate(-45) scale(0.138889 -0.138889)">
<use href="#IPAGothic-32"/>
<use href="#IPAGothic-30" transform="translate(50 0)"/>
<use href="#IPAGothic-32" transform="translate(100 0)"/>
<use href="#IPAGothic-35" transform="translate(150 0)"/>
<use href="#IPAGothic-2d" transform="translate(200 0)"/>
<use href="#IPAGothic-31" transform="translate(250 0)"/>
<use href="#IPAGothic-31" transform="translate(300 0)"/>
<use href="#IPAGothic-2d" transform="translate(350 0)"/>
<use href="#IPAGothic-30" transform="translate(400 0)"/>
<use href="#IPAGothic-33" transform="translate(450 0)"/>
</g>
</g>
</g>
<g id="text_32">
<g transform="translate(511.075 583.047) scale(0.138889 -0.138889)">
<defs>
<path id="IPAGothic-65e5" stroke="#000" stroke-width="60" d="M 5231 4800
L 5231 -288
L 4744 -288
L 4744 128
L 1647 128
L 1647 -288
L 1159 -288
L 1159 4800
L 5231 4800
z
M 1647 4372
L 1647 2731
L 4744 2731
L 4744 4372
L 1647 4372
z
M 1647 2297
L 1647 556
L 4744 556
L 4744 2297
L 1647 2297
z
" transform="scale(0.015625)"/>
<path id="IPAGothic-4ed8" stroke="#000" stroke-width="60" d="M 1681 3772
L 1681 -447
L 1213 -447
L 1213 2825
Q 913 2316 578 1863
L 316 2253
Q 1241 3463 1653 5184
L 2128 5069
Q 1928 4378 1719 3859
L 1681 3772
z
M 5084 3816
L 5994 3816
L 5994 3388
L 5109 3388
L 5109 213
Q 5109 -78 5006 -191
Q 4888 -319 4525 -319
Q 4031 -319 3516 -266
L 3431 238
Q 3978 141 4403 141
Q 4634 141 4634 384
L 4634 3388
L 2031 3388
L 2031 3816
L 4609 3816
L 4609 5153
L 5084 5153
L 5084 3816
z
M 3431 1172
Q 3034 1994 2547 2566
L 2931 2822
Q 3428 2231 3853 1472
L 3431 1172
z
" transform="scale(0.015625)"/>
</defs>
<use href="#IPAGothic-65e5"/>
<use href="#IPAGothic-4ed8" transform="translate(100 0)"/>
</g>
</g>
</g>
<g id="matplotlib.axis_2">
<g id="ytick_1">
<g id="line2d_63">
<path d="M 65.5 446.5 L 985.5 446.5" clip-path="url(#p190b335d0f)" style="fill: none; stroke: #b0b0b0; stroke-width: 1.111111; stroke-linecap: square"/>
</g>
<g id="line2d_64">
<defs>
<path id="mcb02be6ef6" d="M 0.5 0.5 L -4.5 0.5" style="stroke: #000000; stroke-width: 1.111111"/>
</defs>
<g>
<use href="#mcb02be6ef6" x="65" y="446" style="stroke: #000000; stroke-width: 1.111111"/>
</g>
</g>
<g id="text_33">
<g transform="translate(40.903 451.542) scale(0.138889 -0.138889)">
<use href="#IPAGothic-35"/>
<use href="#IPAGothic-30" transform="translate(50 0)"/>
</g>
</g>
</g>
<g id="ytick_2">
<g id="line2d_65">
<path d="M 65.5 369.5 L 985.5 369.5" clip-path="url(#p190b335d0f)" style="fill: none; stroke: #b0b0b0; stroke-width: 1.111111; stroke-linecap: square"/>
</g>
<g id="line2d_66">
<g>
<use href="#mcb02be6ef6" x="65" y="369" style="stroke: #000000; stroke-width: 1.111111"/>
</g>
</g>
<g id="text_34">
<g transform="translate(34.153 373.919) scale(0.138889 -0.138889)">
<use href="#IPAGothic-31"/>
<use href="#IPAGothic-30" transform="translate(50 0)"/>
<use href="#IPAGothic-30" transform="translate(100 0)"/>
</g>
</g>
</g>
<g id="ytick_3">
<g id="line2d_67">
<path d="M 65.5 291.5 L 985.5 291.5" clip-path="url(#p190b335d0f)" style="fill: none; stroke: #b0b0b0; stroke-width: 1.111111; stroke-linecap: square"/>
</g>
<g id="line2d_68">
<g>
<use href="#mcb02be6ef6" x="65" y="291" style="stroke: #000000; stroke-width: 1.111111"/>
</g>
</g>
<g id="text_35">
<g transform="translate(34.028 296.296) scale(0.138889 -0.138889)">
<use href="#IPAGothic-31"/>
<use href="#IPAGothic-35" transform="translate(50 0)"/>
<use href="#IPAGothic-30" transform="translate(100 0)"/>
</g>
</g>
</g>
<g id="ytick_4">
<g id="line2d_69">
<path d="M 65.5 213.5 L 985.5 213.5" clip-path="url(#p190b335d0f)" style="fill: none; stroke: #b0b0b0; stroke-width: 1.111111; stroke-linecap: square"/>
</g>
<g id="line2d_70">
<g>
<use href="#mcb02be6ef6" x="65" y="213" style="stroke: #000000; stroke-width: 1.111111"/>
</g>
</g>
<g id="text_36">
<g transform="translate(34.028 218.673) scale(0.138889 -0.138889)">
<use href="#IPAGothic-32"/>
<use href="#IPAGothic-30" transform="translate(50 0)"/>
<use href="#IPAGothic-30" transform="translate(100 0)"/>
</g>
</g>
</g>
<g id="ytick_5">
<g id="line2d_71">
<path d="M 65.5 136.5 L 985.5 136.5" clip-path="url(#p190b335d0f)" style="fill: none; stroke: #b0b0b0; stroke-width: 1.111111; stroke-linecap: square"/>
</g>
<g id="line2d_72">
<g>
<use href="#mcb02be6ef6" x="65" y="136" style="stroke: #000000; stroke-width: 1.111111"/>
</g>
</g>
<g id="text_37">
<g transform="translate(33.903 141.05) scale(0.138889 -0.138889)">
<use href="#IPAGothic-32"/>
<use href="#IPAGothic-35" transform="translate(50 0)"/>
<use href="#IPAGothic-30" transform="translate(100 0)"/>
</g>
</g>
</g>
<g id="ytick_6">
<g id="line2d_73">
<path d="M 65.5 58.5 L 985.5 58.5" clip-path="url(#p190b335d0f)" style="fill: none; stroke: #b0b0b0; stroke-width: 1.111111; stroke-linecap: square"/>
</g>
<g id="line2d_74">
<g>
<use href="#mcb02be6ef6" x="65" y="58" style="stroke: #000000; stroke-width: 1.111111"/>
</g>
</g>
<g id="text_38">
<g transform="translate(34.028 63.426) scale(0.138889 -0.138889)">
<use href="#IPAGothic-33"/>
<use href="#IPAGothic-30" transform="translate(50 0)"/>
<use href="#IPAGothic-30" transform="translate(100 0)"/>
</g>
</g>
</g>
<g id="text_39">
<g transform="translate(25.697 292.984) rotate(-90) scale(0.138889 -0.138889)">
<defs>
<path id="IPAGothic-5024" stroke="#000" stroke-width="60" d="M 4172 3675
L 5453 3675
L 5453 684
L 3019 684
L 3019 3675
L 3747 3675
Q 3788 3884 3825 4153
L 2144 4153
L 2144 4544
L 3881 4544
Q 3922 4841 3966 5325
L 4434 5272
L 4391 4953
Q 4331 4578 4331 4544
L 5863 4544
L 5863 4153
L 4269 4153
Q 4200 3781 4172 3675
z
M 5038 3316
L 3434 3316
L 3434 2803
L 5038 2803
L 5038 3316
z
M 3434 2450
L 3434 1941
L 5038 1941
L 5038 2450
L 3434 2450
z
M 3434 1588
L 3434 1044
L 5038 1044
L 5038 1588
L 3434 1588
z
M 1509 3669
L 1509 -447
L 1069 -447
L 1069 2728
Q 856 2338 531 1875
L 288 2266
Q 1163 3534 1541 5325
L 1975 5225
Q 1791 4378 1509 3669
z
M 2488 244
L 6034 244
L 6034 -153
L 2488 -153
L 2488 -447
L 2059 -447
L 2059 3213
L 2488 3213
L 2488 244
z
" transform="scale(0.015625)"/>
<path id="IPAGothic-20" stroke="#fff" stroke-width="40" transform="scale(0.015625)"/>
<path id="IPAGothic-28" stroke="#fff" stroke-width="40" d="M 2219 -434
Q 997 769 997 2441
Q 997 4097 2219 5300
L 2719 5300
Q 1478 4078 1478 2425
Q 1478 788 2719 -434
L 2219 -434
z
" transform="matrix(15.625e-3 0 0 15.625e-3 5.156 0)"/>
<path id="IPAGothic-5186" stroke="#000" stroke-width="60" d="M 5594 4806
L 5594 319
Q 5594 34 5491 -97
Q 5366 -269 4959 -269
Q 4469 -269 3897 -225
L 3809 275
Q 4384 206 4844 206
Q 5106 206 5106 434
L 5106 2119
L 1281 2119
L 1281 -359
L 794 -359
L 794 4806
L 5594 4806
z
M 1281 4366
L 1281 2547
L 2944 2547
L 2944 4366
L 1281 4366
z
M 5106 2547
L 5106 4366
L 3413 4366
L 3413 2547
L 5106 2547
z
" transform="scale(0.015625)"/>
<path id="IPAGothic-29" stroke="#fff" stroke-width="40" d="M 481 -434
Q 1722 788 1722 2434
Q 1722 4069 481 5300
L 981 5300
Q 2203 4097 2203 2434
Q 2203 769 981 -434
L 481 -434
z
" transform="matrix(15.625e-3 0 0 15.625e-3 -5.156 0)"/>
</defs>
<use href="#IPAGothic-5024"/>
<use href="#IPAGothic-20" transform="translate(100 0)"/>
<use href="#IPAGothic-28" transform="translate(150 0)"/>
<use href="#IPAGothic-5186" transform="translate(200 0)"/>
<use href="#IPAGothic-29" transform="translate(300 0)"/>
</g>
</g>
</g>
<g id="line2d_75">
<path d="M 106.436364 349.889626
L 134.327273 375.350046
L 162.218182 400.810467
L 190.109091 426.270887
L 218 451.731307
L 245.890909 477.191727
L 273.781818 464.259697
L 301.672727 451.312142
L 329.563636 438.380111
L 357.454545 434.343703
L 385.345455 430.307295
L 413.236364 426.270887
L 441.127273 422.234479
L 469.018182 418.198071
L 496.909091 451.110321
L 524.8 412.298705
L 552.690909 438.380111
L 580.581818 448.083015
L 608.472727 457.785919
L 636.363636 467.488823
L 664.254545 477.191727
L 692.145455 457.785919
L 720.036364 438.380111
L 747.927273 431.657939
L 775.818182 424.920243
L 803.709091 418.198071
L 831.6 430.617788
L 859.490909 451.110321
L 887.381818 445.210956
L 915.272727 438.380111
L 943.163636 356.099485
" clip-path="url(#p190b335d0f)" style="fill: none; stroke: #33cc66; stroke-width: 2.083333; stroke-linecap: square"/>
<defs>
<path id="m582746fa88" d="M 0 4.166667
C 1.105013 4.166667 2.164916 3.72764 2.946278 2.946278
C 3.72764 2.164916 4.166667 1.105013 4.166667 0
C 4.166667 -1.105013 3.72764 -2.164916 2.946278 -2.946278
C 2.164916 -3.72764 1.105013 -4.166667 0 -4.166667
C -1.105013 -4.166667 -2.164916 -3.72764 -2.946278 -2.946278
C -3.72764 -2.164916 -4.166667 -1.105013 -4.166667 0
C -4.166667 1.105013 -3.72764 2.164916 -2.946278 2.946278
C -2.164916 3.72764 -1.105013 4.166667 0 4.166667
z
" style="stroke: #33cc66; stroke-width: 1.388889"/>
</defs>
<g clip-path="url(#p190b335d0f)">
<use href="#m582746fa88" x="106.5" y="350.5" style="fill: #33cc66; stroke: #33cc66; stroke-width: 1.388889"/>
<use href="#m582746fa88" x="134.5" y="375.5" style="fill: #33cc66; stroke: #33cc66; stroke-width: 1.388889"/>
<use href="#m582746fa88" x="162.5" y="401.5" style="fill: #33cc66; stroke: #33cc66; stroke-width: 1.388889"/>
<use href="#m582746fa88" x="190.5" y="426.5" style="fill: #33cc66; stroke: #33cc66; stroke-width: 1.388889"/>
<use href="#m582746fa88" x="218.5" y="452.5" style="fill: #33cc66; stroke: #33cc66; stroke-width: 1.388889"/>
<use href="#m582746fa88" x="246.5" y="477.5" style="fill: #33cc66; stroke: #33cc66; stroke-width: 1.388889"/>
<use href="#m582746fa88" x="274.5" y="464.5" style="fill: #33cc66; stroke: #33cc66; stroke-width: 1.388889"/>
<use href="#m582746fa88" x="302.5" y="451.5" style="fill: #33cc66; stroke: #33cc66; stroke-width: 1.388889"/>
<use href="#m582746fa88" x="330.5" y="438.5" style="fill: #33cc66; stroke: #33cc66; stroke-width: 1.388889"/>
<use href="#m582746fa88" x="357.5" y="434.5" style="fill: #33cc66; stroke: #33cc66; stroke-width: 1.388889"/>
<use href="#m582746fa88" x="385.5" y="430.5" style="fill: #33cc66; stroke: #33cc66; stroke-width: 1.388889"/>
<use href="#m582746fa88" x="413.5" y="426.5" style="fill: #33cc66; stroke: #33cc66; stroke-width: 1.388889"/>
<use href="#m582746fa88" x="441.5" y="422.5" style="fill: #33cc66; stroke: #33cc66; stroke-width: 1.388889"/>
<use href="#m582746fa88" x="469.5" y="418.5" style="fill: #33cc66; stroke: #33cc66; stroke-width: 1.388889"/>
<use href="#m582746fa88" x="497.5" y="451.5" style="fill: #33cc66; stroke: #33cc66; stroke-width: 1.388889"/>
<use href="#m582746fa88" x="525.5" y="412.5" style="fill: #33cc66; stroke: #33cc66; stroke-width: 1.388889"/>
<use href="#m582746fa88" x="553.5" y="438.5" style="fill: #33cc66; stroke: #33cc66; stroke-width: 1.388889"/>
<use href="#m582746fa88" x="581.5" y="448.5" style="fill: #33cc66; stroke: #33cc66; stroke-width: 1.388889"/>
<use href="#m582746fa88" x="608.5" y="458.5" style="fill: #33cc66; stroke: #33cc66; stroke-width: 1.388889"/>
<use href="#m582746fa88" x="636.5" y="467.5" style="fill: #33cc66; stroke: #33cc66; stroke-width: 1.388889"/>
<use href="#m582746fa88" x="664.5" y="477.5" style="fill: #33cc66; stroke: #33cc66; stroke-width: 1.388889"/>
<use href="#m582746fa88" x="692.5" y="458.5" style="fill: #33cc66; stroke: #33cc66; stroke-width: 1.388889"/>
<use href="#m582746fa88" x="720.5" y="438.5" style="fill: #33cc66; stroke: #33cc66; stroke-width: 1.388889"/>
<use href="#m582746fa88" x="748.5" y="432.5" style="fill: #33cc66; stroke: #33cc66; stroke-width: 1.388889"/>
<use href="#m582746fa88" x="776.5" y="425.5" style="fill: #33cc66; stroke: #33cc66; stroke-width: 1.388889"/>
<use href="#m582746fa88" x="804.5" y="418.5" style="fill: #33cc66; stroke: #33cc66; stroke-width: 1.388889"/>
<use href="#m582746fa88" x="832.5" y="431.5" style="fill: #33cc66; stroke: #33cc66; stroke-width: 1.388889"/>
<use href="#m582746fa88" x="859.5" y="451.5" style="fill: #33cc66; stroke: #33cc66; stroke-width: 1.388889"/>
<use href="#m582746fa88" x="887.5" y="445.5" style="fill: #33cc66; stroke: #33cc66; stroke-width: 1.388889"/>
<use href="#m582746fa88" x="915.5" y="438.5" style="fill: #33cc66; stroke: #33cc66; stroke-width: 1.388889"/>
<use href="#m582746fa88" x="943.5" y="356.5" style="fill: #33cc66; stroke: #33cc66; stroke-width: 1.388889"/>
</g>
</g>
<g id="line2d_76">
<path d="M 106.436364 338.090895
L 134.327273 365.414273
L 162.218182 393.358636
L 190.109091 421.303
L 218 449.247364
L 245.890909 477.191727
L 273.781818 464.259697
L 301.672727 451.312142
L 329.563636 438.380111
L 357.454545 434.343703
L 385.345455 430.307295
L 413.236364 426.270887
L 441.127273 422.234479
L 469.018182 418.198071
L 496.909091 477.191727
L 524.8 423.321204
L 552.690909 438.380111
L 580.581818 448.083015
L 608.472727 457.785919
L 636.363636 467.488823
L 664.254545 477.191727
L 692.145455 457.785919
L 720.036364 438.380111
L 747.927273 431.657939
L 775.818182 424.920243
L 803.709091 418.198071
L 831.6 437.138139
L 859.490909 477.191727
L 887.381818 457.785919
L 915.272727 438.380111
L 943.163636 399.568495
" clip-path="url(#p190b335d0f)" style="fill: none; stroke: #ffa500; stroke-width: 2.083333; stroke-linecap: square"/>
<defs>
<path id="mac83ea90e2" d="M 0 4.166667
C 1.105013 4.166667 2.164916 3.72764 2.946278 2.946278
C 3.72764 2.164916 4.166667 1.105013 4.166667 0
C 4.166667 -1.105013 3.72764 -2.164916 2.946278 -2.946278
C 2.164916 -3.72764 1.105013 -4.166667 0 -4.166667
C -1.105013 -4.166667 -2.164916 -3.72764 -2.946278 -2.946278
C -3.72764 -2.164916 -4.166667 -1.105013 -4.166667 0
C -4.166667 1.105013 -3.72764 2.164916 -2.946278 2.946278
C -2.164916 3.72764 -1.105013 4.166667 0 4.166667
z
" style="stroke: #ffa500; stroke-width: 1.388889"/>
</defs>
<g clip-path="url(#p190b335d0f)">
<use href="#mac83ea90e2" x="106.5" y="338.5" style="fill: #ffa500; stroke: #ffa500; stroke-width: 1.388889"/>
<use href="#mac83ea90e2" x="134.5" y="365.5" style="fill: #ffa500; stroke: #ffa500; stroke-width: 1.388889"/>
<use href="#mac83ea90e2" x="162.5" y="393.5" style="fill: #ffa500; stroke: #ffa500; stroke-width: 1.388889"/>
<use href="#mac83ea90e2" x="190.5" y="421.5" style="fill: #ffa500; stroke: #ffa500; stroke-width: 1.388889"/>
<use href="#mac83ea90e2" x="218.5" y="449.5" style="fill: #ffa500; stroke: #ffa500; stroke-width: 1.388889"/>
<use href="#mac83ea90e2" x="246.5" y="477.5" style="fill: #ffa500; stroke: #ffa500; stroke-width: 1.388889"/>
<use href="#mac83ea90e2" x="274.5" y="464.5" style="fill: #ffa500; stroke: #ffa500; stroke-width: 1.388889"/>
<use href="#mac83ea90e2" x="302.5" y="451.5" style="fill: #ffa500; stroke: #ffa500; stroke-width: 1.388889"/>
<use href="#mac83ea90e2" x="330.5" y="438.5" style="fill: #ffa500; stroke: #ffa500; stroke-width: 1.388889"/>
<use href="#mac83ea90e2" x="357.5" y="434.5" style="fill: #ffa500; stroke: #ffa500; stroke-width: 1.388889"/>
<use href="#mac83ea90e2" x="385.5" y="430.5" style="fill: #ffa500; stroke: #ffa500; stroke-width: 1.388889"/>
<use href="#mac83ea90e2" x="413.5" y="426.5" style="fill: #ffa500; stroke: #ffa500; stroke-width: 1.388889"/>
<use href="#mac83ea90e2" x="441.5" y="422.5" style="fill: #ffa500; stroke: #ffa500; stroke-width: 1.388889"/>
<use href="#mac83ea90e2" x="469.5" y="418.5" style="fill: #ffa500; stroke: #ffa500; stroke-width: 1.388889"/>
<use href="#mac83ea90e2" x="497.5" y="477.5" style="fill: #ffa500; stroke: #ffa500; stroke-width: 1.388889"/>
<use href="#mac83ea90e2" x="525.5" y="423.5" style="fill: #ffa500; stroke: #ffa500; stroke-width: 1.388889"/>
<use href="#mac83ea90e2" x="553.5" y="438.5" style="fill: #ffa500; stroke: #ffa500; stroke-width: 1.388889"/>
<use href="#mac83ea90e2" x="581.5" y="448.5" style="fill: #ffa500; stroke: #ffa500; stroke-width: 1.388889"/>
<use href="#mac83ea90e2" x="608.5" y="458.5" style="fill: #ffa500; stroke: #ffa500; stroke-width: 1.388889"/>
<use href="#mac83ea90e2" x="636.5" y="467.5" style="fill: #ffa500; stroke: #ffa500; stroke-width: 1.388889"/>
<use href="#mac83ea90e2" x="664.5" y="477.5" style="fill: #ffa500; stroke: #ffa500; stroke-width: 1.388889"/>
<use href="#mac83ea90e2" x="692.5" y="458.5" style="fill: #ffa500; stroke: #ffa500; stroke-width: 1.388889"/>
<use href="#mac83ea90e2" x="720.5" y="438.5" style="fill: #ffa500; stroke: #ffa500; stroke-width: 1.388889"/>
<use href="#mac83ea90e2" x="748.5" y="432.5" style="fill: #ffa500; stroke: #ffa500; stroke-width: 1.388889"/>
<use href="#mac83ea90e2" x="776.5" y="425.5" style="fill: #ffa500; stroke: #ffa500; stroke-width: 1.388889"/>
<use href="#mac83ea90e2" x="804.5" y="418.5" style="fill: #ffa500; stroke: #ffa500; stroke-width: 1.388889"/>
<use href="#mac83ea90e2" x="832.5" y="437.5" style="fill: #ffa500; stroke: #ffa500; stroke-width: 1.388889"/>
<use href="#mac83ea90e2" x="859.5" y="477.5" style="fill: #ffa500; stroke: #ffa500; stroke-width: 1.388889"/>
<use href="#mac83ea90e2" x="887.5" y="458.5" style="fill: #ffa500; stroke: #ffa500; stroke-width: 1.388889"/>
<use href="#mac83ea90e2" x="915.5" y="438.5" style="fill: #ffa500; stroke: #ffa500; stroke-width: 1.388889"/>
<use href="#mac83ea90e2" x="943.5" y="400.5" style="fill: #ffa500; stroke: #ffa500; stroke-width: 1.388889"/>
</g>
</g>
<g id="line2d_77">
<path d="M 106.436364 213.272737
L 134.327273 266.056535
L 162.218182 318.840333
L 190.109091 371.624131
L 218 424.407929
L 245.890909 477.191727
L 273.781818 451.312142
L 301.672727 425.448081
L 329.563636 399.568495
L 357.454545 399.568495
L 385.345455 399.568495
L 413.236364 399.568495
L 441.127273 399.568495
L 469.018182 399.568495
L 496.909091 399.568495
L 524.8 275.371323
L 552.690909 399.568495
L 580.581818 418.974303
L 608.472727 438.380111
L 636.363636 457.785919
L 664.254545 477.191727
L 692.145455 438.380111
L 720.036364 399.568495
L 747.927273 399.568495
L 775.818182 399.568495
L 803.709091 399.568495
L 831.6 399.568495
L 859.490909 399.568495
L 887.381818 399.568495
L 915.272727 399.568495
L 943.163636 58.026273
" clip-path="url(#p190b335d0f)" style="fill: none; stroke: #ff4444; stroke-width: 2.083333; stroke-linecap: square"/>
<defs>
<path id="m4c52b5189a" d="M 0 4.166667
C 1.105013 4.166667 2.164916 3.72764 2.946278 2.946278
C 3.72764 2.164916 4.166667 1.105013 4.166667 0
C 4.166667 -1.105013 3.72764 -2.164916 2.946278 -2.946278
C 2.164916 -3.72764 1.105013 -4.166667 0 -4.166667
C -1.105013 -4.166667 -2.164916 -3.72764 -2.946278 -2.946278
C -3.72764 -2.164916 -4.166667 -1.105013 -4.166667 0
C -4.166667 1.105013 -3.72764 2.164916 -2.946278 2.946278
C -2.164916 3.72764 -1.105013 4.166667 0 4.166667
z
" style="stroke: #ff4444; stroke-width: 1.388889"/>
</defs>
<g clip-path="url(#p190b335d0f)">
<use href="#m4c52b5189a" x="106.5" y="213.5" style="fill: #ff4444; stroke: #ff4444; stroke-width: 1.388889"/>
<use href="#m4c52b5189a" x="134.5" y="266.5" style="fill: #ff4444; stroke: #ff4444; stroke-width: 1.388889"/>
<use href="#m4c52b5189a" x="162.5" y="319.5" style="fill: #ff4444; stroke: #ff4444; stroke-width: 1.388889"/>
<use href="#m4c52b5189a" x="190.5" y="372.5" style="fill: #ff4444; stroke: #ff4444; stroke-width: 1.388889"/>
<use href="#m4c52b5189a" x="218.5" y="424.5" style="fill: #ff4444; stroke: #ff4444; stroke-width: 1.388889"/>
<use href="#m4c52b5189a" x="246.5" y="477.5" style="fill: #ff4444; stroke: #ff4444; stroke-width: 1.388889"/>
<use href="#m4c52b5189a" x="274.5" y="451.5" style="fill: #ff4444; stroke: #ff4444; stroke-width: 1.388889"/>
<use href="#m4c52b5189a" x="302.5" y="425.5" style="fill: #ff4444; stroke: #ff4444; stroke-width: 1.388889"/>
<use href="#m4c52b5189a" x="330.5" y="400.5" style="fill: #ff4444; stroke: #ff4444; stroke-width: 1.388889"/>
<use href="#m4c52b5189a" x="357.5" y="400.5" style="fill: #ff4444; stroke: #ff4444; stroke-width: 1.388889"/>
<use href="#m4c52b5189a" x="385.5" y="400.5" style="fill: #ff4444; stroke: #ff4444; stroke-width: 1.388889"/>
<use href="#m4c52b5189a" x="413.5" y="400.5" style="fill: #ff4444; stroke: #ff4444; stroke-width: 1.388889"/>
<use href="#m4c52b5189a" x="441.5" y="400.5" style="fill: #ff4444; stroke: #ff4444; stroke-width: 1.388889"/>
<use href="#m4c52b5189a" x="469.5" y="400.5" style="fill: #ff4444; stroke: #ff4444; stroke-width: 1.388889"/>
<use href="#m4c52b5189a" x="497.5" y="400.5" style="fill: #ff4444; stroke: #ff4444; stroke-width: 1.388889"/>
<use href="#m4c52b5189a" x="525.5" y="275.5" style="fill: #ff4444; stroke: #ff4444; stroke-width: 1.388889"/>
<use href="#m4c52b5189a" x="553.5" y="400.5" style="fill: #ff4444; stroke: #ff4444; stroke-width: 1.388889"/>
<use href="#m4c52b5189a" x="581.5" y="419.5" style="fill: #ff4444; stroke: #ff4444; stroke-width: 1.388889"/>
<use href="#m4c52b5189a" x="608.5" y="438.5" style="fill: #ff4444; stroke: #ff4444; stroke-width: 1.388889"/>
<use href="#m4c52b5189a" x="636.5" y="458.5" style="fill: #ff4444; stroke: #ff4444; stroke-width: 1.388889"/>
<use href="#m4c52b5189a" x="664.5" y="477.5" style="fill: #ff4444; stroke: #ff4444; stroke-width: 1.388889"/>
<use href="#m4c52b5189a" x="692.5" y="438.5" style="fill: #ff4444; stroke: #ff4444; stroke-width: 1.388889"/>
<use href="#m4c52b5189a" x="720.5" y="400.5" style="fill: #ff4444; stroke: #ff4444; stroke-width: 1.388889"/>
<use href="#m4c52b5189a" x="748.5" y="400.5" style="fill: #ff4444; stroke: #ff4444; stroke-width: 1.388889"/>
<use href="#m4c52b5189a" x="776.5" y="400.5" style="fill: #ff4444; stroke: #ff4444; stroke-width: 1.388889"/>
<use href="#m4c52b5189a" x="804.5" y="400.5" style="fill: #ff4444; stroke: #ff4444; stroke-width: 1.388889"/>
<use href="#m4c52b5189a" x="832.5" y="400.5" style="fill: #ff4444; stroke: #ff4444; stroke-width: 1.388889"/>
<use href="#m4c52b5189a" x="859.5" y="400.5" style="fill: #ff4444; stroke: #ff4444; stroke-width: 1.388889"/>
<use href="#m4c52b5189a" x="887.5" y="400.5" style="fill: #ff4444; stroke: #ff4444; stroke-width: 1.388889"/>
<use href="#m4c52b5189a" x="915.5" y="400.5" style="fill: #ff4444; stroke: #ff4444; stroke-width: 1.388889"/>
<use href="#m4c52b5189a" x="943.5" y="58.5" style="fill: #ff4444; stroke: #ff4444; stroke-width: 1.388889"/>
</g>
</g>
<g id="line2d_78">
<path d="M 106.436364 446.142434
L 134.327273 452.352293
L 162.218182 458.562152
L 190.109091 464.77201
L 218 470.981869
L 245.890909 477.191727
L 273.781818 477.191727
L 301.672727 477.191727
L 329.563636 477.191727
L 357.454545 469.118911
L 385.345455 461.046095
L 413.236364 452.973279
L 441.127273 444.900463
L 469.018182 436.827646
L 496.909091 477.191727
L 524.8 477.191727
L 552.690909 477.191727
L 580.581818 477.191727
L 608.472727 477.191727
L 636.363636 477.191727
L 664.254545 477.191727
L 692.145455 477.191727
L 720.036364 477.191727
L 747.927273 463.731859
L 775.818182 450.287515
L 803.709091 436.827646
L 831.6 477.191727
L 859.490909 477.191727
L 887.381818 477.191727
L 915.272727 477.191727
L 943.163636 446.142434
" clip-path="url(#p190b335d0f)" style="fill: none; stroke: #4d96ff; stroke-width: 2.083333; stroke-linecap: square"/>
<defs>
<path id="m3853cf6c8f" d="M 0 4.166667
C 1.105013 4.166667 2.164916 3.72764 2.946278 2.946278
C 3.72764 2.164916 4.166667 1.105013 4.166667 0
C 4.166667 -1.105013 3.72764 -2.164916 2.946278 -2.946278
C 2.164916 -3.72764 1.105013 -4.166667 0 -4.166667
C -1.105013 -4.166667 -2.164916 -3.72764 -2.946278 -2.946278
C -3.72764 -2.164916 -4.166667 -1.105013 -4.166667 0
C -4.166667 1.105013 -3.72764 2.164916 -2.946278 2.946278
C -2.164916 3.72764 -1.105013 4.166667 0 4.166667
z
" style="stroke: #4d96ff; stroke-width: 1.388889"/>
</defs>
<g clip-path="url(#p190b335d0f)">
<use href="#m3853cf6c8f" x="106.5" y="446.5" style="fill: #4d96ff; stroke: #4d96ff; stroke-width: 1.388889"/>
<use href="#m3853cf6c8f" x="134.5" y="452.5" style="fill: #4d96ff; stroke: #4d96ff; stroke-width: 1.388889"/>
<use href="#m3853cf6c8f" x="162.5" y="459.5" style="fill: #4d96ff; stroke: #4d96ff; stroke-width: 1.388889"/>
<use href="#m3853cf6c8f" x="190.5" y="465.5" style="fill: #4d96ff; stroke: #4d96ff; stroke-width: 1.388889"/>
<use href="#m3853cf6c8f" x="218.5" y="471.5" style="fill: #4d96ff; stroke: #4d96ff; stroke-width: 1.388889"/>
<use href="#m3853cf6c8f" x="246.5" y="477.5" style="fill: #4d96ff; stroke: #4d96ff; stroke-width: 1.388889"/>
<use href="#m3853cf6c8f" x="274.5" y="477.5" style="fill: #4d96ff; stroke: #4d96ff; stroke-width: 1.388889"/>
<use href="#m3853cf6c8f" x="302.5" y="477.5" style="fill: #4d96ff; stroke: #4d96ff; stroke-width: 1.388889"/>
<use href="#m3853cf6c8f" x="330.5" y="477.5" style="fill: #4d96ff; stroke: #4d96ff; stroke-width: 1.388889"/>
<use href="#m3853cf6c8f" x="357.5" y="469.5" style="fill: #4d96ff; stroke: #4d96ff; stroke-width: 1.388889"/>
<use href="#m3853cf6c8f" x="385.5" y="461.5" style="fill: #4d96ff; stroke: #4d96ff; stroke-width: 1.388889"/>
<use href="#m3853cf6c8f" x="413.5" y="453.5" style="fill: #4d96ff; stroke: #4d96ff; stroke-width: 1.388889"/>
<use href="#m3853cf6c8f" x="441.5" y="445.5" style="fill: #4d96ff; stroke: #4d96ff; stroke-width: 1.388889"/>
<use href="#m3853cf6c8f" x="469.5" y="437.5" style="fill: #4d96ff; stroke: #4d96ff; stroke-width: 1.388889"/>
<use href="#m3853cf6c8f" x="497.5" y="477.5" style="fill: #4d96ff; stroke: #4d96ff; stroke-width: 1.388889"/>
<use href="#m3853cf6c8f" x="525.5" y="477.5" style="fill: #4d96ff; stroke: #4d96ff; stroke-width: 1.388889"/>
<use href="#m3853cf6c8f" x="553.5" y="477.5" style="fill: #4d96ff; stroke: #4d96ff; stroke-width: 1.388889"/>
<use href="#m3853cf6c8f" x="581.5" y="477.5" style="fill: #4d96ff; stroke: #4d96ff; stroke-width: 1.388889"/>
<use href="#m3853cf6c8f" x="608.5" y="477.5" style="fill: #4d96ff; stroke: #4d96ff; stroke-width: 1.388889"/>
<use href="#m3853cf6c8f" x="636.5" y="477.5" style="fill: #4d96ff; stroke: #4d96ff; stroke-width: 1.388889"/>
<use href="#m3853cf6c8f" x="664.5" y="477.5" style="fill: #4d96ff; stroke: #4d96ff; stroke-width: 1.388889"/>
<use href="#m3853cf6c8f" x="692.5" y="477.5" style="fill: #4d96ff; stroke: #4d96ff; stroke-width: 1.388889"/>
<use href="#m3853cf6c8f" x="720.5" y="477.5" style="fill: #4d96ff; stroke: #4d96ff; stroke-width: 1.388889"/>
<use href="#m3853cf6c8f" x="748.5" y="464.5" style="fill: #4d96ff; stroke: #4d96ff; stroke-width: 1.388889"/>
<use href="#m3853cf6c8f" x="776.5" y="450.5" style="fill: #4d96ff; stroke: #4d96ff; stroke-width: 1.388889"/>
<use href="#m3853cf6c8f" x="804.5" y="437.5" style="fill: #4d96ff; stroke: #4d96ff; stroke-width: 1.388889"/>
<use href="#m3853cf6c8f" x="832.5" y="477.5" style="fill: #4d96ff; stroke: #4d96ff; stroke-width: 1.388889"/>
<use href="#m3853cf6c8f" x="859.5" y="477.5" style="fill: #4d96ff; stroke: #4d96ff; stroke-width: 1.388889"/>
<use href="#m3853cf6c8f" x="887.5" y="477.5" style="fill: #4d96ff; stroke: #4d96ff; stroke-width: 1.388889"/>
<use href="#m3853cf6c8f" x="915.5" y="477.5" style="fill: #4d96ff; stroke: #4d96ff; stroke-width: 1.388889"/>
<use href="#m3853cf6c8f" x="943.5" y="446.5" style="fill: #4d96ff; stroke: #4d96ff; stroke-width: 1.388889"/>
</g>
</g>
<g id="patch_3">
<path d="M 65.5 498.5 L 65.5 37.5" style="fill: none; stroke: #000000; stroke-width: 1.111111; stroke-linejoin: miter; stroke-linecap: square"/>
</g>
<g id="patch_4">
<path d="M 985.5 498.5 L 985.5 37.5" style="fill: none; stroke: #000000; stroke-width: 1.111111; stroke-linejoin: miter; stroke-linecap: square"/>
</g>
<g id="patch_5">
<path d="M 65.5 498.5 L 985.5 498.5" style="fill: none; stroke: #000000; stroke-width: 1.111111; stroke-linejoin: miter; stroke-linecap: square"/>
</g>
<g id="patch_6">
<path d="M 65.5 37.5 L 985.5 37.5" style="fill: none; stroke: #000000; stroke-width: 1.111111; stroke-linejoin: miter; stroke-linecap: square"/>
</g>
<g id="text_40">
<g transform="translate(336.7 29.085) scale(0.166667 -0.166667)">
<defs>
<path id="IPAGothic-5927" stroke="#000" stroke-width="60" d="M 3528 3181
Q 4150 1197 6006 275
L 5647 -184
Q 3891 831 3259 2681
Q 2894 644 872 -344
L 513 97
Q 1681 528 2344 1538
Q 2784 2219 2900 3181
L 481 3181
L 481 3628
L 2925 3628
L 2925 5153
L 3431 5153
L 3431 3628
L 5922 3628
L 5922 3181
L 3528 3181
z
" transform="scale(0.015625)"/>
<path id="IPAGothic-9b54" stroke="#000" stroke-width="60" d="M 4788 4428
L 4788 3994
L 5881 3994
L 5881 3653
L 5013 3653
Q 5338 3253 5913 2950
L 5675 2613
Q 5147 2981 4806 3456
L 4788 3481
L 4788 2663
L 4403 2663
L 4403 3438
Q 4138 2997 3681 2700
L 3413 2981
Q 3881 3222 4197 3653
L 3578 3653
L 3578 3994
L 4403 3994
L 4403 4428
L 2703 4428
L 2703 3994
L 3438 3994
L 3438 3653
L 2703 3653
L 2703 3531
Q 2975 3400 3309 3175
L 3138 2894
L 3481 2816
Q 3444 2713 3341 2534
L 5422 2534
L 5422 997
L 4734 997
Q 4731 994 4728 978
Q 4725 959 4722 953
Q 4672 788 4544 519
Q 4734 534 5050 575
L 5141 588
Q 5113 619 5041 694
Q 4969 769 4928 813
L 5241 972
Q 5453 769 5747 409
L 5681 372
L 6081 250
Q 6031 -241 5869 -325
Q 5700 -409 4850 -409
Q 3913 -409 3731 -331
Q 3534 -256 3534 13
L 3534 997
L 3034 997
Q 2928 381 2528 19
Q 2144 -328 1331 -531
L 1088 -166
Q 2416 66 2619 997
L 1556 997
L 1556 2534
L 2913 2534
Q 3006 2750 3047 2913
L 3053 2913
Q 2903 3047 2703 3200
L 2703 2663
L 2319 2663
L 2319 3409
Q 2013 2906 1491 2559
L 1263 2875
Q 1772 3153 2119 3653
L 1378 3653
L 1378 3994
L 2319 3994
L 2319 4428
L 1153 4428
L 1153 2578
Q 1153 1269 1019 606
Q 900 38 591 -481
L 238 -153
Q 738 719 738 2591
L 738 4788
L 3125 4788
L 3125 5313
L 3584 5313
L 3584 4788
L 6081 4788
L 6081 4428
L 4788 4428
z
M 5656 353
L 5428 197
Q 5369 294 5313 366
Q 4678 209 3931 153
Q 3941 34 4025 6
Q 4172 -31 4763 -31
Q 5541 -31 5606 72
Q 5647 128 5656 353
z
M 3931 466
Q 4013 472 4191 484
Q 4281 734 4344 997
L 3931 997
L 3931 466
z
M 1972 2241
L 1972 1925
L 3266 1925
L 3266 2241
L 1972 2241
z
M 1972 1644
L 1972 1291
L 3266 1291
L 3266 1644
L 1972 1644
z
M 5006 1291
L 5006 1644
L 3656 1644
L 3656 1291
L 5006 1291
z
M 5006 1925
L 5006 2241
L 3656 2241
L 3656 1925
L 5006 1925
z
" transform="scale(0.015625)"/>
<path id="IPAGothic-9375" stroke="#000" stroke-width="60" d="M 4872 2713
L 4872 2228
L 5884 2228
L 5884 1881
L 4872 1881
L 4872 1391
L 6075 1391
L 6075 1031
L 4872 1031
L 4872 288
L 4481 288
L 4481 1031
L 3509 1031
L 3509 1391
L 4481 1391
L 4481 1881
L 3650 1881
L 3650 2228
L 4481 2228
L 4481 2713
L 3706 2713
L 3706 3053
L 4481 3053
L 4481 3563
L 3413 3563
L 3413 3909
L 4481 3909
L 4481 4388
L 3713 4388
L 3713 4728
L 4481 4728
L 4481 5313
L 4872 5313
L 4872 4728
L 5709 4728
L 5709 3916
L 6094 3916
L 6094 3556
L 5709 3556
L 5709 2713
L 4872 2713
z
M 4866 3053
L 5325 3053
L 5325 3563
L 4866 3563
L 4866 3053
z
M 4866 3909
L 5325 3909
L 5325 4388
L 4866 4388
L 4866 3909
z
M 1609 3181
L 1609 2491
L 2313 2491
L 2313 2113
L 1609 2113
L 1609 428
Q 2028 559 2363 697
L 2391 328
Q 1481 -66 419 -325
L 250 84
Q 647 166 1219 322
L 1219 2113
L 347 2113
L 347 2491
L 1219 2491
L 1219 3181
L 738 3181
Q 588 2975 403 2759
L 206 3131
Q 903 3981 1309 5306
L 1706 5216
Q 1700 5197 1666 5094
Q 1647 5031 1634 4994
Q 2091 4547 2459 4019
L 2184 3650
Q 1906 4122 1494 4609
Q 1256 4019 981 3559
L 2172 3559
L 2172 3181
L 1609 3181
z
M 3528 3034
Q 3478 1663 3231 934
Q 3553 456 4141 266
Q 4688 94 5678 94
Q 5784 94 6181 109
Q 6091 -94 6063 -341
Q 5875 -347 5650 -347
Q 3763 -347 3066 525
Q 2809 -16 2344 -453
L 2075 -134
Q 2584 319 2822 909
Q 2550 1481 2400 2188
L 2747 2284
Q 2903 1644 2988 1434
Q 3094 1913 3144 2656
L 2388 2656
Q 2794 3556 3009 4434
L 2259 4434
L 2259 4825
L 3213 4825
L 3463 4659
Q 3219 3691 2963 3034
L 3528 3034
z
M 653 488
Q 534 1228 391 1663
L 756 1766
Q 906 1334 1038 616
L 653 488
z
M 1716 806
Q 1884 1328 1959 1813
L 2338 1703
Q 2222 1213 2038 728
L 1716 806
z
" transform="scale(0.015625)"/>
<path id="IPAGothic-30de" stroke="#000" stroke-width="60" d="M 5350 4122
L 5631 3822
Q 4588 2491 3316 1447
Q 3744 994 4159 500
L 3725 122
Q 2794 1381 1619 2322
L 1997 2644
Q 2409 2322 2988 1772
Q 4091 2703 4819 3641
L 672 3603
L 672 4084
L 5350 4122
z
" transform="scale(0.015625)"/>
<path id="IPAGothic-30d5" stroke="#000" stroke-width="60" d="M 4966 4294
L 5263 4019
Q 4819 894 1966 -97
L 1600 353
Q 4234 1156 4684 3822
L 1044 3756
L 1044 4244
L 4966 4294
z
" transform="scale(0.015625)"/>
<path id="IPAGothic-30c6" stroke="#000" stroke-width="60" d="M 563 3072
L 5741 3072
L 5741 2613
L 3578 2613
Q 3541 1516 3134 872
Q 2688 156 1663 -256
L 1313 156
Q 2334 538 2713 1166
Q 3003 1644 3034 2613
L 563 2613
L 563 3072
z
M 1406 4588
L 4941 4588
L 4941 4128
L 1406 4128
L 1406 4588
z
" transform="scale(0.015625)"/>
<path id="IPAGothic-30a2" stroke="#000" stroke-width="60" d="M 5388 4556
L 5747 4197
Q 5081 3022 4019 2188
L 3647 2547
Q 4519 3178 5081 4091
L 850 4013
L 850 4500
L 5388 4556
z
M 1216 256
Q 2319 813 2616 1688
Q 2797 2197 2797 3628
L 3313 3628
Q 3303 1981 3059 1356
Q 2697 431 1594 -153
L 1216 256
z
" transform="scale(0.015625)"/>
<path id="IPAGothic-30eb" stroke="#000" stroke-width="60" d="M 353 331
Q 1313 994 1544 2022
Q 1684 2650 1684 4397
L 2203 4397
L 2203 4153
L 2203 4116
Q 2203 2259 1934 1491
Q 1619 588 744 -38
L 353 331
z
M 3125 4666
L 3650 4666
L 3650 769
Q 4875 1488 5672 2731
L 5997 2278
Q 5075 966 3516 63
L 3125 359
L 3125 4666
z
" transform="scale(0.015625)"/>
<path id="IPAGothic-2f" stroke="#fff" stroke-width="40" d="M 2750 5259
L 3006 5147
L 441 -403
L 184 -288
L 2750 5259
z
" transform="scale(0.015625)"/>
<path id="IPAGothic-42" stroke="#fff" stroke-width="40" d="M 434 4806
L 1516 4806
Q 2019 4806 2350 4550
Q 2741 4263 2741 3706
Q 2741 2991 2016 2684
Q 2900 2406 2900 1538
Q 2900 972 2497 628
Q 2147 325 1619 325
L 434 325
L 434 4806
z
M 934 4331
L 934 2888
L 1491 2888
Q 1753 2888 1922 3009
Q 2222 3213 2222 3641
Q 2222 4331 1509 4331
L 934 4331
z
M 934 2441
L 934 800
L 1538 800
Q 2369 800 2369 1606
Q 2369 2441 1509 2441
L 934 2441
z
" transform="matrix(15.625e-3 0 0 17.031e-3 0 -6.75)"/>
<path id="IPAGothic-4f" stroke="#fff" stroke-width="40" d="M 1600 4934
Q 2197 4934 2541 4331
Q 2906 3691 2906 2566
Q 2906 1466 2559 831
Q 2216 197 1600 197
Q 988 197 653 813
Q 294 1469 294 2572
Q 294 3741 691 4391
Q 1025 4934 1600 4934
z
M 1600 4466
Q 831 4466 831 2572
Q 831 666 1606 666
Q 2369 666 2369 2553
Q 2369 4466 1600 4466
z
" transform="matrix(15.625e-3 0 0 17.031e-3 0 -6.75)"/>
<path id="IPAGothic-44" stroke="#fff" stroke-width="40" d="M 172 325
L 172 800
L 538 800
L 538 4331
L 172 4331
L 172 4806
L 1331 4806
Q 2094 4806 2503 4275
Q 2906 3753 2906 2638
Q 2906 1481 2534 941
Q 2113 325 1363 325
L 172 325
z
M 1050 4331
L 1050 800
L 1344 800
Q 2381 800 2381 2638
Q 2381 3550 2084 3963
Q 1822 4331 1306 4331
L 1050 4331
z
" transform="matrix(15.625e-3 0 0 17.031e-3 0 -6.75)"/>
<path id="IPAGothic-45" stroke="#fff" stroke-width="40" d="M 447 4806
L 2694 4806
L 2694 4319
L 959 4319
L 959 2894
L 2463 2894
L 2463 2419
L 959 2419
L 959 813
L 2822 813
L 2822 325
L 447 325
L 447 4806
z
" transform="matrix(15.625e-3 0 0 17.031e-3 0 -6.75)"/>
<path id="IPAGothic-52" stroke="#fff" stroke-width="40" d="M 447 4806
L 1556 4806
Q 2097 4806 2438 4563
Q 2872 4244 2872 3641
Q 2872 2759 2034 2500
L 2994 325
L 2406 325
L 1534 2416
L 947 2416
L 947 325
L 447 325
L 447 4806
z
M 947 4331
L 947 2875
L 1484 2875
Q 1766 2875 1975 2991
Q 2359 3191 2359 3628
Q 2359 4331 1478 4331
L 947 4331
z
" transform="matrix(15.625e-3 0 0 17.031e-3 0 -6.75)"/>
<path id="IPAGothic-4fa1" stroke="#000" stroke-width="60" d="M 3144 3397
L 3144 4416
L 1831 4416
L 1831 4825
L 6081 4825
L 6081 4416
L 4713 4416
L 4713 3397
L 5850 3397
L 5850 -384
L 5416 -384
L 5416 0
L 2463 0
L 2463 -384
L 2034 -384
L 2034 3397
L 3144 3397
z
M 3572 3397
L 4281 3397
L 4281 4416
L 3572 4416
L 3572 3397
z
M 3169 3013
L 2463 3013
L 2463 391
L 3169 391
L 3169 3013
z
M 3572 3013
L 3572 391
L 4281 391
L 4281 3013
L 3572 3013
z
M 4684 3013
L 4684 391
L 5416 391
L 5416 3013
L 4684 3013
z
M 1394 3816
L 1394 -447
L 966 -447
L 966 2797
Q 756 2369 478 1972
L 244 2369
Q 950 3472 1375 5313
L 1809 5203
Q 1588 4344 1394 3816
z
" transform="scale(0.015625)"/>
<path id="IPAGothic-683c" stroke="#000" stroke-width="60" d="M 1281 2650
Q 978 1569 500 806
L 231 1269
Q 866 2141 1231 3584
L 366 3584
L 366 3988
L 1281 3988
L 1281 5306
L 1716 5306
L 1716 3988
L 2534 3988
L 2534 3584
L 1716 3584
L 1716 3072
Q 2163 2719 2572 2331
L 2328 1953
Q 2059 2291 1716 2625
L 1716 -447
L 1281 -447
L 1281 2650
z
M 2938 1747
Q 2716 1613 2516 1509
L 2247 1841
Q 3244 2341 3963 3078
Q 3669 3369 3353 3841
Q 3028 3344 2638 2969
L 2356 3281
Q 3213 4131 3538 5300
L 3956 5184
Q 3834 4813 3834 4806
L 5250 4806
L 5478 4606
Q 5016 3650 4531 3091
Q 5238 2509 6131 2144
L 5838 1731
Q 5766 1766 5516 1900
L 5459 1931
L 5459 -447
L 5019 -447
L 5019 -128
L 3378 -128
L 3378 -447
L 2938 -447
L 2938 1747
z
M 3225 1931
L 5459 1931
Q 5416 1959 5325 2009
Q 4738 2344 4263 2781
Q 3906 2400 3225 1931
z
M 5019 1547
L 3378 1547
L 3378 263
L 5019 263
L 5019 1547
z
M 3672 4422
Q 3625 4331 3556 4184
Q 3825 3781 4225 3372
Q 4588 3809 4903 4422
L 3672 4422
z
" transform="scale(0.015625)"/>
<path id="IPAGothic-63a8" stroke="#000" stroke-width="60" d="M 3244 4063
L 4244 4063
Q 4484 4581 4653 5228
L 5125 5100
Q 4913 4484 4691 4063
L 5906 4063
L 5906 3666
L 4647 3666
L 4647 2822
L 5747 2822
L 5747 2438
L 4647 2438
L 4647 1594
L 5747 1594
L 5747 1216
L 4647 1216
L 4647 319
L 6047 319
L 6047 -91
L 3244 -91
L 3244 -481
L 2816 -481
L 2816 3188
L 2791 3128
Q 2581 2744 2366 2463
L 2084 2797
Q 2813 3728 3166 5284
L 3616 5144
Q 3428 4494 3244 4063
z
M 3244 319
L 4231 319
L 4231 1216
L 3244 1216
L 3244 319
z
M 3244 1594
L 4231 1594
L 4231 2438
L 3244 2438
L 3244 1594
z
M 3244 2822
L 4231 2822
L 4231 3666
L 3244 3666
L 3244 2822
z
M 1184 4084
L 1184 5313
L 1613 5313
L 1613 4084
L 2328 4084
L 2328 3669
L 1613 3669
L 1613 2241
Q 1997 2341 2334 2453
L 2359 2069
Q 1809 1884 1631 1831
L 1613 1825
L 1613 44
Q 1613 -194 1522 -294
Q 1413 -403 1081 -403
Q 738 -403 519 -366
L 441 97
Q 741 38 978 38
Q 1184 38 1184 219
L 1184 1703
L 1144 1697
Q 738 1584 409 1509
L 275 1941
Q 722 2022 1138 2119
Q 1147 2122 1166 2125
Q 1175 2128 1184 2131
L 1184 3669
L 372 3669
L 372 4084
L 1184 4084
z
" transform="scale(0.015625)"/>
<path id="IPAGothic-79fb" stroke="#000" stroke-width="60" d="M 4691 2419
L 5844 2419
L 6066 2188
Q 5503 1156 4759 513
Q 4078 -75 2975 -469
L 2681 -97
Q 3684 194 4384 728
Q 4094 1056 3731 1356
Q 3381 1053 2919 819
L 2669 1150
Q 3853 1772 4500 2878
L 4909 2772
Q 4772 2528 4691 2419
z
M 4409 2034
Q 4216 1803 4000 1588
Q 4375 1341 4703 1009
Q 5219 1488 5497 2034
L 4409 2034
z
M 1350 2328
Q 1009 1334 513 659
L 263 1081
Q 966 2022 1266 3128
L 366 3128
L 366 3531
L 1350 3531
L 1350 4400
Q 919 4322 575 4266
L 366 4644
Q 1506 4806 2381 5144
L 2700 4747
Q 2241 4600 1784 4491
L 1784 3531
L 2619 3531
L 2619 3128
L 1784 3128
L 1784 2688
Q 2303 2266 2722 1803
L 2444 1356
Q 2103 1841 1784 2181
L 1784 -447
L 1350 -447
L 1350 2328
z
M 4275 4800
L 5491 4800
L 5709 4609
Q 4759 2809 2872 2047
L 2603 2388
Q 3534 2722 4134 3244
Q 3869 3519 3450 3794
Q 3184 3569 2859 3359
L 2591 3666
Q 3578 4259 4056 5288
L 4478 5191
Q 4403 5034 4275 4800
z
M 4019 4416
Q 3856 4194 3700 4038
Q 4128 3759 4372 3553
L 4416 3513
Q 4884 3991 5119 4416
L 4019 4416
z
" transform="scale(0.015625)"/>
<path id="IPAGothic-904e" stroke="#000" stroke-width="60" d="M 1703 741
Q 1975 363 2503 209
Q 2906 94 3931 94
Q 4897 94 6131 178
Q 6025 -59 5978 -300
Q 4931 -341 4384 -341
Q 2819 -341 2234 -128
Q 1763 44 1525 397
Q 1113 -81 653 -447
L 372 19
Q 900 341 1269 672
L 1269 2303
L 378 2303
L 378 2731
L 1703 2731
L 1703 741
z
M 5338 2778
L 2594 2778
L 2594 428
L 2178 428
L 2178 3138
L 2594 3138
L 2594 5025
L 5338 5025
L 5338 3138
L 5753 3138
L 5753 875
Q 5753 597 5638 513
Q 5547 441 5313 441
Q 5019 441 4713 478
L 4659 903
Q 4956 850 5184 850
Q 5338 850 5338 1016
L 5338 2778
z
M 4934 3138
L 4934 3784
L 4041 3784
L 4041 3138
L 4934 3138
z
M 3663 3138
L 3663 4116
L 4934 4116
L 4934 4666
L 3003 4666
L 3003 3138
L 3663 3138
z
M 4750 2350
L 4750 1113
L 3469 1113
L 3469 781
L 3091 781
L 3091 2350
L 4750 2350
z
M 3469 2019
L 3469 1453
L 4372 1453
L 4372 2019
L 3469 2019
z
M 1525 3775
Q 1053 4353 563 4738
L 878 5056
Q 1497 4566 1869 4122
L 1525 3775
z
" transform="scale(0.015625)"/>
<path id="IPAGothic-53bb" stroke="#000" stroke-width="60" d="M 3009 2169
Q 3003 2150 2988 2131
Q 2634 1163 2144 344
L 2375 363
Q 3003 400 3963 497
L 4697 575
Q 4322 1025 3909 1419
L 4281 1650
Q 5041 956 5834 -34
L 5431 -347
Q 5347 -234 5200 -47
Q 5038 163 4991 222
Q 3384 -22 959 -213
L 800 269
Q 888 272 1153 288
Q 1428 303 1606 313
L 1656 403
Q 2147 1250 2491 2169
L 447 2169
L 447 2584
L 2931 2584
L 2931 3744
L 959 3744
L 959 4159
L 2931 4159
L 2931 5216
L 3419 5216
L 3419 4159
L 5438 4159
L 5438 3744
L 3419 3744
L 3419 2584
L 5950 2584
L 5950 2169
L 3009 2169
z
" transform="scale(0.015625)"/>
<path id="IPAGothic-9593" stroke="#000" stroke-width="60" d="M 4450 2566
L 4450 353
L 2375 353
L 2375 -25
L 1953 -25
L 1953 2566
L 4450 2566
z
M 4028 2200
L 2375 2200
L 2375 1653
L 4028 1653
L 4028 2200
z
M 4028 1300
L 2375 1300
L 2375 719
L 4028 719
L 4028 1300
z
M 2913 5019
L 2913 3059
L 1056 3059
L 1056 -447
L 609 -447
L 609 5019
L 2913 5019
z
M 1056 4659
L 1056 4206
L 2497 4206
L 2497 4659
L 1056 4659
z
M 1056 3881
L 1056 3413
L 2497 3413
L 2497 3881
L 1056 3881
z
M 5788 5019
L 5788 91
Q 5788 -225 5641 -331
Q 5525 -409 5231 -409
Q 4800 -409 4481 -366
L 4419 97
Q 4853 38 5128 38
Q 5341 38 5341 244
L 5341 3059
L 3438 3059
L 3438 5019
L 5788 5019
z
M 3853 4659
L 3853 4206
L 5341 4206
L 5341 4659
L 3853 4659
z
M 3853 3881
L 3853 3413
L 5341 3413
L 5341 3881
L 3853 3881
z
" transform="scale(0.015625)"/>
</defs>
<use href="#IPAGothic-5927"/>
<use href="#IPAGothic-9b54" transform="translate(100 0)"/>
<use href="#IPAGothic-9375" transform="translate(200 0)"/>
<use href="#IPAGothic-2d" transform="translate(300 0)"/>
<use href="#IPAGothic-30de" transform="translate(350 0)"/>
<use href="#IPAGothic-30d5" transform="translate(450 0)"/>
<use href="#IPAGothic-30c6" transform="translate(550 0)"/>
<use href="#IPAGothic-30a2" transform="translate(650 0)"/>
<use href="#IPAGothic-30eb" transform="translate(750 0)"/>
<use href="#IPAGothic-2f" transform="translate(850 0)"/>
<use href="#IPAGothic-42" transform="translate(900 0)"/>
<use href="#IPAGothic-4f" transform="translate(950 0)"/>
<use href="#IPAGothic-44" transform="translate(1000 0)"/>
<use href="#IPAGothic-45" transform="translate(1050 0)"/>
<use href="#IPAGothic-2f" transform="translate(1100 0)"/>
<use href="#IPAGothic-52" transform="translate(1150 0)"/>
<use href="#IPAGothic-20" transform="translate(1200 0)"/>
<use href="#IPAGothic-4fa1" transform="translate(1250 0)"/>
<use href="#IPAGothic-683c" transform="translate(1350 0)"/>
<use href="#IPAGothic-63a8" transform="translate(1450 0)"/>
<use href="#IPAGothic-79fb" transform="translate(1550 0)"/>
<use href="#IPAGothic-28" transform="translate(1650 0)"/>
<use href="#IPAGothic-904e" transform="translate(1700 0)"/>
<use href="#IPAGothic-53bb" transform="translate(1800 0)"/>
<use href="#IPAGothic-33" transform="translate(1900 0)"/>
<use href="#IPAGothic-30" transform="translate(1950 0)"/>
<use href="#IPAGothic-65e5" transform="translate(2000 0)"/>
<use href="#IPAGothic-9593" transform="translate(2100 0)"/>
<use href="#IPAGothic-29" transform="translate(2200 0)"/>
</g>
</g>
<g id="legend_1">
<g id="patch_7">
<path d="M 74.322222 128.035014
L 160.391667 128.035014
Q 163.169444 128.035014 163.169444 125.257236
L 163.169444 46.790222
Q 163.169444 44.012444 160.391667 44.012444
L 74.322222 44.012444
Q 71.544444 44.012444 71.544444 46.790222
L 71.544444 125.257236
Q 71.544444 128.035014 74.322222 128.035014
z
" style="fill: #ffffff; opacity: 0.8; stroke: #cccccc; stroke-width: 1.388889; stroke-linejoin: miter"/>
</g>
<g id="line2d_79">
<path d="M 77 56 L 91 56 L 105 56" style="fill: none; stroke: #33cc66; stroke-width: 2.083333; stroke-linecap: square"/>
<g>
<use href="#m582746fa88" x="91.5" y="56.5" style="fill: #33cc66; stroke: #33cc66; stroke-width: 1.388889"/>
</g>
</g>
<g id="text_41">
<g transform="translate(116.739 61.024) scale(0.138889 -0.138889)">
<defs>
<path id="IPAGothic-5e73" stroke="#000" stroke-width="60" d="M 3419 4428
L 3419 1941
L 6078 1941
L 6078 1513
L 3419 1513
L 3419 -447
L 2931 -447
L 2931 1513
L 319 1513
L 319 1941
L 2931 1941
L 2931 4428
L 638 4428
L 638 4856
L 5759 4856
L 5759 4428
L 3419 4428
z
M 1728 2278
Q 1488 3094 1081 3859
L 1541 4038
Q 1872 3422 2219 2472
L 1728 2278
z
M 4134 2425
Q 4506 3138 4813 4128
L 5303 3944
Q 4984 3006 4569 2228
L 4134 2425
z
" transform="scale(0.015625)"/>
<path id="IPAGothic-5747" stroke="#000" stroke-width="60" d="M 1206 3794
L 1206 5147
L 1659 5147
L 1659 3794
L 2369 3794
L 2369 3372
L 1659 3372
L 1659 1325
Q 2081 1516 2481 1722
L 2566 1313
Q 1556 778 559 397
L 334 838
Q 803 975 1206 1138
L 1206 3372
L 413 3372
L 413 3794
L 1206 3794
z
M 3475 4244
L 5844 4244
Q 5834 1131 5619 184
Q 5494 -366 4838 -366
Q 4369 -366 3859 -306
L 3769 184
Q 4241 88 4731 88
Q 5059 88 5147 306
Q 5359 919 5369 3828
L 3316 3828
Q 3013 3119 2466 2472
L 2150 2828
Q 2944 3788 3259 5263
L 3719 5147
Q 3619 4663 3475 4244
z
M 2978 2847
L 4681 2847
L 4681 2431
L 2978 2431
L 2978 2847
z
M 2559 1044
Q 3747 1338 4838 1797
L 4891 1388
Q 3831 891 2766 588
L 2559 1044
z
" transform="scale(0.015625)"/>
</defs>
<use href="#IPAGothic-5e73"/>
<use href="#IPAGothic-5747" transform="translate(100 0)"/>
<use href="#IPAGothic-5024" transform="translate(200 0)"/>
</g>
</g>
<g id="line2d_80">
<path d="M 77 76 L 91 76 L 105 76" style="fill: none; stroke: #ffa500; stroke-width: 2.083333; stroke-linecap: square"/>
<g>
<use href="#mac83ea90e2" x="91.5" y="76.5" style="fill: #ffa500; stroke: #ffa500; stroke-width: 1.388889"/>
</g>
</g>
<g id="text_42">
<g transform="translate(116.739 80.969) scale(0.138889 -0.138889)">
<defs>
<path id="IPAGothic-4e2d" stroke="#000" stroke-width="60" d="M 2925 3950
L 2925 5209
L 3425 5209
L 3425 3950
L 5613 3950
L 5613 1125
L 5125 1125
L 5125 1594
L 3425 1594
L 3425 -447
L 2925 -447
L 2925 1594
L 1263 1594
L 1263 1094
L 775 1094
L 775 3950
L 2925 3950
z
M 1263 3534
L 1263 2009
L 2925 2009
L 2925 3534
L 1263 3534
z
M 5125 2009
L 5125 3534
L 3425 3534
L 3425 2009
L 5125 2009
z
" transform="scale(0.015625)"/>
<path id="IPAGothic-592e" stroke="#000" stroke-width="60" d="M 3578 1947
Q 4238 694 5972 134
L 5634 -294
Q 3847 378 3253 1750
Q 2916 216 809 -403
L 506 16
Q 2547 475 2894 1947
L 353 1947
L 353 2363
L 1256 2363
L 1256 4178
L 2938 4178
L 2938 5216
L 3413 5216
L 3413 4178
L 5141 4178
L 5141 2363
L 6044 2363
L 6044 1947
L 3578 1947
z
M 2938 3763
L 1703 3763
L 1703 2363
L 2938 2363
L 2938 3763
z
M 3413 3763
L 3413 2363
L 4688 2363
L 4688 3763
L 3413 3763
z
" transform="scale(0.015625)"/>
</defs>
<use href="#IPAGothic-4e2d"/>
<use href="#IPAGothic-592e" transform="translate(100 0)"/>
<use href="#IPAGothic-5024" transform="translate(200 0)"/>
</g>
</g>
<g id="line2d_81">
<path d="M 77 96 L 91 96 L 105 96" style="fill: none; stroke: #ff4444; stroke-width: 2.083333; stroke-linecap: square"/>
<g>
<use href="#m4c52b5189a" x="91.5" y="96.5" style="fill: #ff4444; stroke: #ff4444; stroke-width: 1.388889"/>
</g>
</g>
<g id="text_43">
<g transform="translate(116.739 100.96) scale(0.138889 -0.138889)">
<defs>
<path id="IPAGothic-6700" stroke="#000" stroke-width="60" d="M 5106 5050
L 5106 3275
L 1288 3275
L 1288 5050
L 5106 5050
z
M 1741 4697
L 1741 4331
L 4659 4331
L 4659 4697
L 1741 4697
z
M 1741 4000
L 1741 3622
L 4659 3622
L 4659 4000
L 1741 4000
z
M 2925 2528
L 2925 -447
L 2503 -447
L 2503 231
Q 1875 97 525 -75
L 409 359
Q 491 363 609 372
Q 728 381 756 384
L 994 403
L 994 2528
L 384 2528
L 384 2900
L 6016 2900
L 6016 2528
L 2925 2528
z
M 2503 2528
L 1403 2528
L 1403 2088
L 2503 2088
L 2503 2528
z
M 2503 1763
L 1403 1763
L 1403 1309
L 2503 1309
L 2503 1763
z
M 2503 984
L 1403 984
L 1403 434
L 1763 472
Q 2159 500 2503 550
L 2503 984
z
M 4844 588
Q 5350 225 6047 -9
L 5753 -419
Q 5066 -128 4556 288
Q 4000 -241 3281 -534
L 3006 -163
Q 3738 84 4263 563
Q 3722 1141 3463 1803
L 3084 1803
L 3084 2169
L 5428 2169
L 5656 1963
Q 5328 1178 4881 638
L 4844 588
z
M 4538 850
Q 4884 1275 5119 1803
L 3872 1803
Q 4113 1275 4538 850
z
" transform="scale(0.015625)"/>
<path id="IPAGothic-9ad8" stroke="#000" stroke-width="60" d="M 4481 1588
L 4481 366
L 2319 366
L 2319 0
L 1891 0
L 1891 1588
L 4481 1588
z
M 4053 1247
L 2319 1247
L 2319 706
L 4053 706
L 4053 1247
z
M 3419 4641
L 5916 4641
L 5916 4263
L 481 4263
L 481 4641
L 2938 4641
L 2938 5313
L 3419 5313
L 3419 4641
z
M 4884 3878
L 4884 2694
L 1513 2694
L 1513 3878
L 4884 3878
z
M 1959 3531
L 1959 3041
L 4438 3041
L 4438 3531
L 1959 3531
z
M 5684 2309
L 5684 103
Q 5684 -378 5091 -378
Q 4703 -378 4316 -350
L 4253 109
Q 4706 44 5006 44
Q 5231 44 5231 250
L 5231 1944
L 1166 1944
L 1166 -447
L 713 -447
L 713 2309
L 5684 2309
z
" transform="scale(0.015625)"/>
</defs>
<use href="#IPAGothic-6700"/>
<use href="#IPAGothic-9ad8" transform="translate(100 0)"/>
<use href="#IPAGothic-5024" transform="translate(200 0)"/>
</g>
</g>
<g id="line2d_82">
<path d="M 77 116 L 91 116 L 105 116" style="fill: none; stroke: #4d96ff; stroke-width: 2.083333; stroke-linecap: square"/>
<g>
<use href="#m3853cf6c8f" x="91.5" y="116.5" style="fill: #4d96ff; stroke: #4d96ff; stroke-width: 1.388889"/>
</g>
</g>
<g id="text_44">
<g transform="translate(116.739 121.092) scale(0.138889 -0.138889)">
<defs>
<path id="IPAGothic-5b89" stroke="#000" stroke-width="60" d="M 4728 2381
Q 4484 1484 3969 872
Q 5038 403 5778 31
L 5397 -353
Q 4466 163 3616 538
Q 2703 -194 838 -403
L 550 31
Q 2272 166 3150 738
Q 2625 963 1925 1216
Q 1863 1119 1663 831
L 1259 1050
Q 1684 1650 2088 2381
L 416 2381
L 416 2784
L 2284 2784
Q 2563 3388 2713 3828
L 3169 3706
Q 2972 3178 2791 2784
L 5984 2784
L 5984 2381
L 4728 2381
z
M 4244 2381
L 2600 2381
Q 2459 2097 2209 1659
L 2150 1563
Q 2750 1359 3366 1113
L 3525 1050
Q 4019 1572 4244 2381
z
M 3419 4428
L 5753 4428
L 5753 3163
L 5278 3163
L 5278 4025
L 1116 4025
L 1116 3163
L 641 3163
L 641 4428
L 2931 4428
L 2931 5313
L 3419 5313
L 3419 4428
z
" transform="scale(0.015625)"/>
</defs>
<use href="#IPAGothic-6700"/>
<use href="#IPAGothic-5b89" transform="translate(100 0)"/>
<use href="#IPAGothic-5024" transform="translate(200 0)"/>
</g>
</g>
</g>
</g>
</g>
<defs>
<clipPath id="p190b335d0f">
<rect x="64.6" y="37.068" width="920.4" height="461.082"/>
</clipPath>
</defs>
</svg>

</body></html>
